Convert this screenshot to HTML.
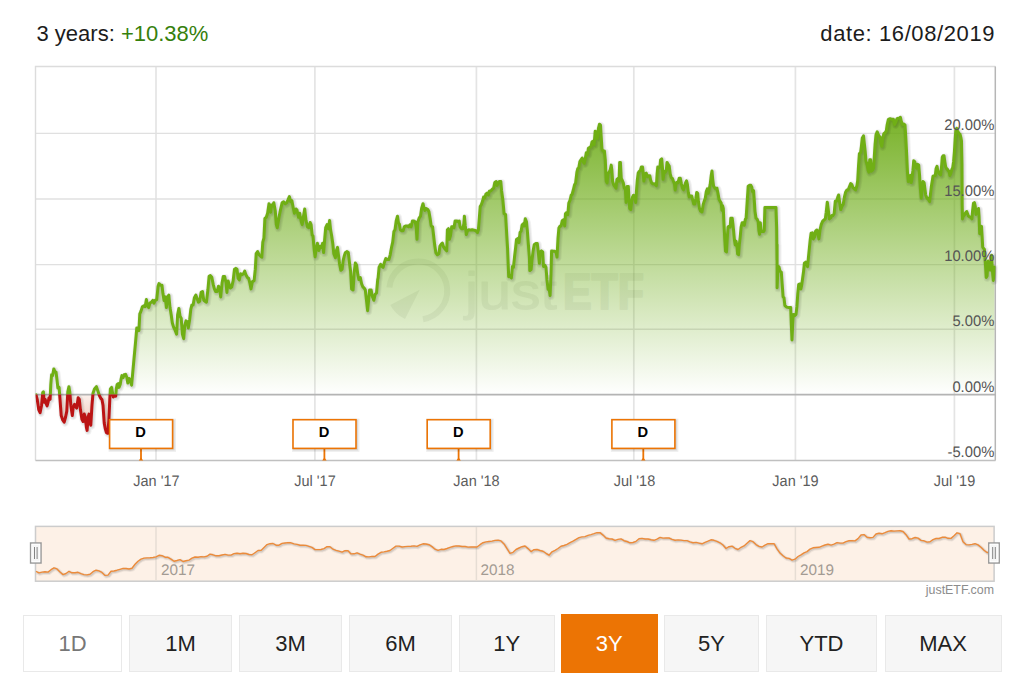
<!DOCTYPE html>
<html lang="en"><head><meta charset="utf-8"><title>justETF chart</title>
<style>
html,body{margin:0;padding:0;background:#fff}
body{width:1024px;height:675px;position:relative;overflow:hidden;font-family:"Liberation Sans",sans-serif;color:#222}
.chart{position:absolute;left:0;top:0}
.hd{position:absolute;top:21px;font-size:22px;line-height:26px;white-space:nowrap;color:#1c1c1c}
.hd.l{left:36.5px;letter-spacing:0} .hd.r{right:28.9px;letter-spacing:0.6px}
.hd .g{color:#36800c}
.btn{position:absolute;top:615px;height:56.5px;box-sizing:border-box;border:1.5px solid #e9e9e9;background:#f6f6f6;color:#222;font-size:22px;line-height:56px;text-align:center}
.btn.dis{background:#fff;color:#777}
.btn.act{background:#ec7404;border-color:#ec7404;color:#fff;top:614px;height:58.5px;line-height:58px}
</style></head><body>
<svg class="chart" width="1024" height="675" viewBox="0 0 1024 675">
<defs>
<linearGradient id="gG" gradientUnits="userSpaceOnUse" x1="0" y1="117" x2="0" y2="395">
<stop offset="0" stop-color="#6aaa12" stop-opacity="0.9"/><stop offset="1" stop-color="#6aaa12" stop-opacity="0"/></linearGradient>
<linearGradient id="gR" gradientUnits="userSpaceOnUse" x1="0" y1="395" x2="0" y2="440">
<stop offset="0" stop-color="#d8663a" stop-opacity="0.1"/><stop offset="1" stop-color="#d8663a" stop-opacity="0.45"/></linearGradient>
<clipPath id="cUp"><rect x="35.6" y="60" width="960" height="334.6"/></clipPath>
<clipPath id="cDn"><rect x="35.6" y="394.6" width="960" height="66"/></clipPath>
<clipPath id="cPlot"><rect x="35.6" y="60" width="961" height="402"/></clipPath>
</defs>
<g fill="none" stroke="#e4e4e4" stroke-width="1.7">
<path d="M156.0 66.5 V460.5"/>
<path d="M314.9 66.5 V460.5"/>
<path d="M476.4 66.5 V460.5"/>
<path d="M633.8 66.5 V460.5"/>
<path d="M795.4 66.5 V460.5"/>
<path d="M954.4 66.5 V460.5"/>
</g>
<g fill="none" stroke="#e0e0e0" stroke-width="1.4">
<path d="M35.5 133.4 H995.5"/>
<path d="M35.5 199.0 H995.5"/>
<path d="M35.5 264.6 H995.5"/>
<path d="M35.5 329.3 H995.5"/>
</g>
<path d="M35.5 460.5 V66.5 H995.5" fill="none" stroke="#dcdcdc" stroke-width="1.4"/>
<path d="M995.3 66.6 V460.5" fill="none" stroke="#b6b6b6" stroke-width="1.5"/>
<g class="wm" opacity="0.055" fill="#000" stroke="#000" stroke-linejoin="round">
<path d="M389.4 287.5 A29 29 0 1 1 423 319.2" fill="none" stroke-width="6" stroke-linecap="butt"/>
<path d="M419.7 289.7 L390.3 305 A31.5 31.5 0 0 0 405 319 Z" stroke="none"/>
<text x="465" y="309" font-size="52" stroke-width="1" font-family="'Liberation Sans',sans-serif" textLength="92" lengthAdjust="spacingAndGlyphs">just</text>
<text x="563" y="309" font-size="50" font-weight="bold" stroke-width="2.2" font-family="'Liberation Sans',sans-serif" textLength="81" lengthAdjust="spacingAndGlyphs">ETF</text>
</g>
<path d="M36.0 394.8 L37.2 399.3 L38.7 409.6 L40.1 412.6 L41.6 405.2 L42.7 392.6 L43.4 391.9 L44.1 402.2 L45.2 399.3 L46.1 403.7 L47.1 405.9 L48.1 402.2 L49.0 397.8 L50.1 399.3 L50.8 384.4 L51.6 374.8 L52.6 375.6 L53.8 368.9 L55.0 371.9 L56.0 371.9 L57.0 380.0 L57.9 388.1 L59.1 387.4 L60.0 399.3 L61.2 415.6 L62.7 420.0 L64.2 422.2 L65.6 417.0 L66.8 411.1 L67.8 391.9 L68.9 386.7 L69.8 391.9 L70.8 405.2 L72.3 415.6 L73.3 406.7 L74.5 404.4 L75.7 406.7 L76.7 408.1 L78.2 397.8 L79.3 399.3 L80.4 409.6 L81.9 419.3 L83.1 421.5 L84.2 414.1 L85.2 417.0 L86.4 427.4 L87.1 430.4 L88.2 417.0 L89.0 414.1 L90.1 423.0 L90.8 425.2 L92.0 405.2 L93.0 393.3 L94.5 388.9 L96.4 386.7 L97.9 391.1 L99.4 395.6 L100.9 398.5 L101.9 399.3 L103.0 405.2 L104.2 423.0 L105.3 428.9 L106.4 432.6 L107.8 433.3 L108.9 420.0 L109.8 399.3 L110.4 388.9 L111.6 387.4 L112.4 391.9 L113.3 397.0 L114.5 395.6 L115.7 396.3 L116.3 388.9 L117.2 384.4 L118.2 383.7 L119.0 387.4 L120.2 384.4 L121.2 378.5 L121.9 375.6 L123.1 377.8 L124.2 374.8 L125.6 374.4 L126.7 377.0 L127.8 383.0 L129.0 378.5 L130.2 380.0 L131.6 385.2 L133.9 360.0 L135.3 344.9 L136.8 328.0 L138.0 328.0 L138.9 330.7 L139.8 313.8 L141.0 311.1 L142.4 306.7 L143.9 305.8 L145.1 306.7 L146.4 299.6 L147.4 305.8 L148.7 307.6 L149.9 303.1 L151.3 302.2 L152.8 300.4 L154.0 303.1 L155.2 300.4 L156.7 299.6 L158.1 286.2 L159.0 283.6 L160.6 285.3 L162.0 285.3 L162.9 293.3 L164.1 300.4 L165.2 296.9 L166.4 307.6 L167.3 296.9 L168.8 295.1 L170.0 307.6 L171.2 314.7 L172.3 322.7 L173.6 327.1 L175.3 330.7 L176.6 334.2 L177.6 314.7 L178.9 308.4 L180.1 316.4 L181.2 318.2 L182.4 334.2 L183.7 338.7 L184.8 325.3 L186.0 320.9 L187.2 321.8 L188.3 328.0 L189.6 320.0 L190.8 309.3 L191.9 304.9 L193.1 304.9 L194.4 297.8 L195.8 295.1 L197.2 298.7 L198.4 302.2 L199.7 301.3 L201.1 292.4 L202.5 291.6 L203.8 300.4 L205.0 301.3 L206.4 302.2 L207.9 289.8 L209.1 276.4 L210.4 275.6 L211.8 277.3 L213.2 284.4 L214.4 288.9 L215.7 291.6 L217.1 291.6 L218.5 286.2 L219.8 289.8 L220.7 296.9 L222.1 282.7 L223.3 276.4 L224.6 276.4 L226.0 282.7 L226.9 292.4 L228.1 280.9 L229.2 284.4 L230.4 288.0 L231.7 287.1 L233.1 280.9 L234.5 269.3 L235.8 268.4 L237.0 269.3 L238.1 278.2 L239.3 280.0 L240.6 273.8 L242.0 274.7 L243.4 273.8 L244.7 271.1 L245.9 274.7 L247.3 277.3 L248.7 278.5 L250.0 283.7 L251.0 288.9 L252.4 281.6 L254.1 280.6 L255.3 269.2 L256.2 253.6 L257.6 251.6 L259.1 254.7 L260.7 256.3 L261.8 257.2 L262.8 242.2 L263.9 238.1 L264.9 218.4 L266.3 217.3 L267.6 213.2 L269.0 203.8 L270.7 212.2 L271.5 204.9 L272.8 205.9 L273.8 202.8 L275.3 211.1 L276.3 224.6 L277.3 227.7 L279.0 217.3 L280.4 210.1 L282.1 202.8 L283.6 201.8 L285.2 203.8 L286.7 202.8 L288.1 199.7 L289.4 196.6 L290.8 201.8 L291.9 200.7 L293.1 207.0 L294.4 213.2 L296.0 209.0 L297.0 210.1 L298.5 217.3 L299.7 213.2 L301.2 221.5 L302.2 224.6 L303.3 217.3 L304.7 209.0 L306.0 220.4 L307.4 226.7 L308.9 227.7 L310.1 222.5 L311.1 224.6 L312.2 235.0 L313.0 236.0 L314.3 250.5 L315.1 256.8 L316.3 248.4 L317.4 243.3 L318.8 250.5 L320.3 246.4 L321.5 247.4 L322.6 243.3 L323.6 252.6 L324.6 240.2 L325.7 227.7 L327.1 224.6 L328.4 228.8 L329.6 220.4 L330.6 229.8 L331.7 236.0 L332.9 244.3 L333.8 253.6 L335.4 257.8 L336.4 250.5 L337.5 247.4 L338.7 256.8 L339.6 264.0 L340.8 270.2 L342.1 269.2 L343.1 260.9 L344.3 255.7 L345.4 252.6 L346.8 251.6 L348.3 252.6 L349.5 263.0 L350.6 271.3 L351.6 288.9 L353.1 289.9 L354.1 273.3 L355.3 263.0 L356.6 265.0 L357.8 274.4 L358.9 279.6 L360.3 277.5 L361.6 283.7 L362.8 286.8 L364.0 287.9 L365.3 289.9 L366.5 300.3 L367.6 310.7 L368.6 300.3 L369.6 289.9 L371.1 289.9 L372.3 296.2 L373.8 300.3 L375.2 294.1 L376.5 293.1 L377.7 279.6 L378.1 277.9 L379.1 267.3 L380.6 264.4 L381.9 266.3 L383.1 267.3 L384.4 262.4 L385.8 258.6 L387.3 259.6 L388.9 259.6 L390.2 254.8 L391.6 247.0 L392.7 242.2 L393.9 231.6 L395.0 229.7 L396.2 221.0 L397.5 216.2 L398.5 223.0 L399.3 223.9 L400.4 229.7 L401.8 230.7 L403.1 230.7 L404.3 226.8 L405.6 225.9 L407.0 225.9 L408.5 226.8 L409.9 224.9 L411.2 226.8 L412.4 221.0 L413.9 221.0 L415.3 222.0 L416.2 227.8 L417.0 239.3 L417.8 222.0 L419.1 218.2 L420.5 216.2 L421.6 208.5 L423.0 203.7 L423.9 207.6 L424.9 210.4 L426.2 208.5 L427.8 209.5 L428.9 211.4 L430.1 218.2 L431.2 225.9 L432.6 226.8 L433.6 235.5 L434.7 245.1 L435.9 252.8 L437.4 254.8 L438.9 253.8 L439.9 246.1 L441.3 244.2 L442.4 243.2 L443.6 247.0 L445.1 249.0 L446.7 250.9 L447.4 229.7 L448.4 228.7 L449.4 239.3 L450.5 235.5 L451.7 226.8 L452.8 226.8 L454.0 227.8 L455.1 221.0 L456.7 221.0 L458.2 221.6 L459.2 221.0 L460.1 226.8 L461.5 228.7 L462.8 228.7 L463.8 223.9 L464.4 216.2 L465.3 225.9 L466.3 234.5 L467.5 230.7 L468.8 229.7 L470.1 230.1 L472.1 229.7 L474.0 230.1 L475.9 230.7 L477.5 232.6 L478.4 229.7 L479.4 217.2 L480.2 206.6 L481.3 204.7 L482.7 200.8 L483.6 197.0 L484.8 197.9 L485.9 194.1 L487.1 193.1 L488.3 195.0 L489.4 191.2 L491.0 190.8 L492.3 189.3 L493.6 188.3 L494.8 182.5 L496.2 181.6 L497.1 185.4 L499.3 181.4 L500.8 181.4 L501.6 190.7 L502.9 200.1 L504.1 213.6 L505.6 214.6 L506.6 232.2 L507.6 248.8 L508.7 276.8 L510.1 275.8 L511.4 277.9 L512.4 266.4 L513.4 267.5 L514.5 257.1 L515.5 248.8 L516.5 239.5 L518.0 238.4 L519.0 242.6 L520.1 232.2 L521.1 231.2 L522.1 225.0 L523.2 223.9 L524.2 226.0 L525.3 218.8 L526.5 221.9 L527.3 230.2 L528.4 244.7 L529.4 257.1 L529.8 270.6 L531.1 269.6 L532.1 259.2 L533.1 250.9 L534.2 244.7 L535.6 243.6 L537.3 243.6 L538.3 251.9 L539.4 263.3 L540.2 251.9 L541.4 250.9 L542.7 251.9 L543.5 266.4 L545.0 265.4 L546.0 267.5 L547.0 279.9 L548.1 289.3 L549.1 288.2 L550.1 295.5 L551.0 273.7 L551.6 250.9 L552.9 251.3 L554.7 251.3 L556.0 251.9 L557.0 257.1 L558.0 238.4 L558.9 228.1 L560.1 226.0 L561.1 226.0 L562.2 220.8 L563.6 219.8 L564.7 226.0 L565.5 213.6 L566.8 212.5 L567.8 214.6 L568.8 203.2 L570.1 200.1 L571.3 194.9 L572.1 194.4 L573.3 190.0 L574.6 184.7 L575.6 182.9 L576.9 172.2 L577.8 168.7 L578.8 167.8 L579.9 161.6 L581.0 159.8 L582.2 158.0 L583.1 161.6 L584.2 163.3 L585.2 158.9 L586.3 152.7 L587.6 154.4 L588.4 148.2 L589.9 147.3 L591.1 146.4 L592.0 142.0 L593.1 141.1 L594.1 144.7 L595.2 131.3 L596.4 132.2 L597.3 138.4 L598.4 128.7 L599.5 124.2 L600.5 125.1 L601.2 136.7 L602.0 149.1 L603.0 150.9 L604.4 150.9 L605.3 159.8 L606.2 181.1 L607.1 182.9 L608.0 173.1 L609.2 172.2 L610.3 169.6 L611.2 165.1 L611.9 170.4 L612.6 181.1 L613.7 184.7 L614.8 186.4 L616.0 188.2 L616.9 179.3 L618.0 178.4 L619.0 181.1 L619.7 162.4 L620.4 162.4 L621.3 178.4 L622.2 180.2 L623.3 182.9 L624.4 188.2 L625.4 189.1 L626.1 202.4 L627.2 186.4 L628.3 186.4 L629.0 198.9 L629.7 208.7 L630.8 209.6 L631.6 202.4 L632.5 197.1 L633.4 195.3 L634.7 196.2 L635.7 202.4 L636.4 191.8 L637.3 180.2 L638.2 173.1 L639.3 171.3 L640.4 170.4 L641.4 166.9 L642.5 166.9 L643.2 172.2 L643.9 181.1 L645.0 174.0 L646.2 173.1 L647.5 176.7 L648.5 175.8 L649.8 175.8 L650.7 180.2 L651.7 182.9 L652.8 183.8 L654.2 183.8 L655.5 184.7 L656.4 185.6 L657.1 174.0 L657.8 166.9 L658.8 167.8 L659.9 166.9 L660.6 159.8 L661.7 158.9 L662.4 166.9 L663.1 179.3 L664.2 171.3 L665.2 172.2 L666.3 170.4 L667.0 162.4 L668.1 164.2 L669.2 166.0 L670.2 174.0 L671.3 177.6 L672.4 178.4 L673.4 181.1 L674.5 183.8 L675.2 190.0 L676.3 182.9 L677.3 182.0 L678.0 182.7 L679.2 178.2 L680.3 178.2 L681.4 183.6 L682.4 188.0 L683.5 189.8 L684.6 186.2 L685.6 182.7 L686.5 180.9 L687.4 184.4 L688.3 192.4 L689.2 196.9 L690.4 196.0 L691.7 196.0 L692.8 200.4 L693.8 204.0 L694.9 204.0 L695.8 198.7 L696.7 192.4 L697.7 193.3 L698.4 201.3 L699.5 208.4 L700.6 211.1 L702.0 212.0 L703.1 204.9 L704.1 201.3 L705.2 198.7 L706.3 191.6 L707.3 188.9 L708.2 193.3 L709.1 189.8 L710.2 184.4 L711.2 175.6 L712.0 171.1 L712.7 179.1 L713.6 186.2 L714.8 188.0 L715.9 188.9 L716.9 188.0 L718.0 193.3 L719.1 199.6 L720.1 201.3 L721.2 203.1 L721.9 210.2 L722.6 205.8 L723.3 208.4 L724.0 223.6 L724.8 239.6 L725.5 251.1 L726.5 252.0 L727.2 239.6 L728.0 227.1 L729.0 226.2 L730.1 227.1 L730.8 218.2 L732.2 218.2 L732.9 223.6 L733.6 230.7 L734.4 239.6 L735.2 244.9 L736.1 241.3 L737.0 246.7 L737.6 253.8 L738.6 254.7 L739.3 244.9 L740.2 236.9 L741.1 227.1 L742.2 222.7 L743.2 222.7 L744.3 225.3 L745.4 219.1 L746.1 218.2 L746.8 207.6 L747.5 196.9 L748.2 186.2 L749.6 185.3 L750.9 185.3 L751.8 187.1 L752.5 191.6 L753.6 190.7 L754.3 200.4 L755.0 211.1 L756.0 218.2 L757.1 219.1 L758.2 221.8 L758.9 230.7 L759.6 234.2 L760.3 222.7 L761.0 229.8 L762.1 231.6 L763.5 231.6 L764.2 230.7 L764.9 207.6 L766.9 207.6 L769.6 207.6 L773.1 207.6 L776.0 207.6 L776.7 228.9 L777.0 260.0 L777.1 244.4 L777.1 287.8 L777.8 271.1 L778.9 266.7 L780.0 271.1 L781.3 272.2 L782.2 284.4 L783.1 296.7 L784.0 297.8 L784.9 305.6 L786.7 307.1 L788.9 307.6 L790.7 307.6 L791.3 324.4 L792.0 340.0 L792.7 324.4 L793.3 314.4 L794.7 315.6 L796.0 314.4 L796.9 306.7 L797.8 293.3 L798.7 284.4 L800.0 284.0 L800.9 288.9 L801.8 284.4 L802.7 277.8 L803.6 271.1 L804.4 263.3 L805.8 262.2 L806.7 264.4 L807.6 266.7 L808.4 257.8 L809.3 248.9 L810.2 240.0 L811.1 233.3 L812.4 232.9 L813.3 238.9 L814.7 236.7 L815.6 231.1 L816.9 230.0 L817.8 233.3 L818.9 238.9 L820.0 230.0 L821.3 224.4 L822.7 221.1 L824.0 220.0 L825.3 218.9 L826.2 212.2 L827.3 202.2 L828.2 208.9 L829.3 218.9 L830.7 217.8 L831.8 215.6 L832.8 215.8 L834.1 213.7 L835.3 201.3 L836.5 201.3 L837.8 197.1 L838.6 195.0 L839.5 201.3 L840.7 209.6 L841.9 206.4 L843.2 204.4 L844.4 197.1 L845.7 191.9 L846.9 189.9 L848.2 189.9 L849.4 186.8 L850.7 183.6 L851.9 184.7 L853.1 187.8 L854.4 188.8 L855.6 189.9 L856.9 185.7 L857.7 180.5 L858.5 166.0 L859.4 153.6 L860.6 152.5 L861.4 146.3 L862.3 138.0 L863.5 135.9 L864.4 144.2 L865.2 151.5 L866.0 160.8 L867.2 165.0 L868.1 170.2 L868.9 172.2 L869.7 159.8 L870.6 159.8 L871.4 171.2 L872.6 170.2 L873.5 168.1 L874.3 156.7 L875.1 144.2 L876.0 134.9 L877.2 131.8 L878.0 133.8 L878.9 135.9 L880.1 137.0 L880.9 143.2 L881.8 146.3 L882.6 139.0 L883.8 133.8 L885.1 132.8 L886.3 130.7 L887.2 124.5 L888.4 119.3 L890.1 118.7 L891.7 119.3 L893.4 119.3 L894.6 124.5 L895.9 121.4 L897.1 118.7 L898.4 118.3 L899.6 117.9 L900.4 117.3 L901.3 121.4 L902.5 124.5 L903.8 124.1 L905.0 124.9 L905.8 137.0 L906.7 154.6 L907.5 172.2 L908.3 181.6 L909.1 176.4 L910.4 175.3 L911.2 182.6 L912.0 178.4 L912.9 170.2 L913.7 160.8 L914.8 161.9 L915.8 166.0 L916.6 168.1 L917.5 164.3 L918.7 165.0 L919.5 174.3 L920.4 188.8 L921.2 198.2 L922.0 189.9 L923.0 181.6 L924.1 182.6 L924.9 188.8 L925.7 195.0 L927.0 198.2 L927.7 198.0 L928.8 200.2 L929.6 201.6 L930.5 193.8 L931.3 186.8 L932.2 181.2 L933.0 176.2 L934.1 175.8 L935.3 175.5 L936.1 168.5 L937.0 166.4 L937.8 170.6 L938.6 172.7 L939.6 174.1 L940.6 174.8 L941.5 167.1 L942.3 157.2 L943.1 155.8 L944.0 155.8 L944.8 161.4 L945.7 167.1 L946.5 168.5 L947.4 169.2 L948.2 170.6 L949.1 171.3 L949.9 175.5 L951.0 172.7 L951.9 169.2 L952.7 167.8 L953.6 161.4 L954.4 151.6 L955.2 138.9 L955.8 130.5 L956.7 128.4 L957.5 130.5 L958.4 132.6 L959.2 134.0 L960.0 134.0 L960.9 137.5 L961.5 141.0 L962.0 164.3 L962.2 204.8 L962.5 218.9 L963.4 215.9 L964.4 215.2 L965.5 213.0 L966.7 211.5 L967.6 213.7 L968.4 215.9 L969.6 216.7 L970.8 217.4 L971.9 218.9 L972.6 210.7 L973.5 203.3 L974.4 202.6 L975.3 206.3 L975.9 214.4 L976.7 211.5 L977.6 210.7 L978.5 208.5 L979.1 216.7 L979.7 233.7 L980.6 227.0 L981.5 226.3 L982.1 235.9 L982.7 247.0 L983.6 248.5 L984.4 249.3 L985.0 258.1 L985.6 267.0 L986.2 277.4 L987.1 275.9 L987.7 265.6 L988.3 261.1 L989.2 269.3 L990.1 270.0 L991.0 264.1 L991.6 255.2 L992.1 264.1 L992.7 274.4 L993.3 280.4 L993.9 275.9 L994.4 267.0 L994.4 395.0 L36.0 395.0 Z" fill="url(#gG)" clip-path="url(#cUp)"/>
<path d="M36.0 394.8 L37.2 399.3 L38.7 409.6 L40.1 412.6 L41.6 405.2 L42.7 392.6 L43.4 391.9 L44.1 402.2 L45.2 399.3 L46.1 403.7 L47.1 405.9 L48.1 402.2 L49.0 397.8 L50.1 399.3 L50.8 384.4 L51.6 374.8 L52.6 375.6 L53.8 368.9 L55.0 371.9 L56.0 371.9 L57.0 380.0 L57.9 388.1 L59.1 387.4 L60.0 399.3 L61.2 415.6 L62.7 420.0 L64.2 422.2 L65.6 417.0 L66.8 411.1 L67.8 391.9 L68.9 386.7 L69.8 391.9 L70.8 405.2 L72.3 415.6 L73.3 406.7 L74.5 404.4 L75.7 406.7 L76.7 408.1 L78.2 397.8 L79.3 399.3 L80.4 409.6 L81.9 419.3 L83.1 421.5 L84.2 414.1 L85.2 417.0 L86.4 427.4 L87.1 430.4 L88.2 417.0 L89.0 414.1 L90.1 423.0 L90.8 425.2 L92.0 405.2 L93.0 393.3 L94.5 388.9 L96.4 386.7 L97.9 391.1 L99.4 395.6 L100.9 398.5 L101.9 399.3 L103.0 405.2 L104.2 423.0 L105.3 428.9 L106.4 432.6 L107.8 433.3 L108.9 420.0 L109.8 399.3 L110.4 388.9 L111.6 387.4 L112.4 391.9 L113.3 397.0 L114.5 395.6 L115.7 396.3 L116.3 388.9 L117.2 384.4 L118.2 383.7 L119.0 387.4 L120.2 384.4 L121.2 378.5 L121.9 375.6 L123.1 377.8 L124.2 374.8 L125.6 374.4 L126.7 377.0 L127.8 383.0 L129.0 378.5 L130.2 380.0 L131.6 385.2 L133.9 360.0 L135.3 344.9 L136.8 328.0 L138.0 328.0 L138.9 330.7 L139.8 313.8 L141.0 311.1 L142.4 306.7 L143.9 305.8 L145.1 306.7 L146.4 299.6 L147.4 305.8 L148.7 307.6 L149.9 303.1 L151.3 302.2 L152.8 300.4 L154.0 303.1 L155.2 300.4 L156.7 299.6 L158.1 286.2 L159.0 283.6 L160.6 285.3 L162.0 285.3 L162.9 293.3 L164.1 300.4 L165.2 296.9 L166.4 307.6 L167.3 296.9 L168.8 295.1 L170.0 307.6 L171.2 314.7 L172.3 322.7 L173.6 327.1 L175.3 330.7 L176.6 334.2 L177.6 314.7 L178.9 308.4 L180.1 316.4 L181.2 318.2 L182.4 334.2 L183.7 338.7 L184.8 325.3 L186.0 320.9 L187.2 321.8 L188.3 328.0 L189.6 320.0 L190.8 309.3 L191.9 304.9 L193.1 304.9 L194.4 297.8 L195.8 295.1 L197.2 298.7 L198.4 302.2 L199.7 301.3 L201.1 292.4 L202.5 291.6 L203.8 300.4 L205.0 301.3 L206.4 302.2 L207.9 289.8 L209.1 276.4 L210.4 275.6 L211.8 277.3 L213.2 284.4 L214.4 288.9 L215.7 291.6 L217.1 291.6 L218.5 286.2 L219.8 289.8 L220.7 296.9 L222.1 282.7 L223.3 276.4 L224.6 276.4 L226.0 282.7 L226.9 292.4 L228.1 280.9 L229.2 284.4 L230.4 288.0 L231.7 287.1 L233.1 280.9 L234.5 269.3 L235.8 268.4 L237.0 269.3 L238.1 278.2 L239.3 280.0 L240.6 273.8 L242.0 274.7 L243.4 273.8 L244.7 271.1 L245.9 274.7 L247.3 277.3 L248.7 278.5 L250.0 283.7 L251.0 288.9 L252.4 281.6 L254.1 280.6 L255.3 269.2 L256.2 253.6 L257.6 251.6 L259.1 254.7 L260.7 256.3 L261.8 257.2 L262.8 242.2 L263.9 238.1 L264.9 218.4 L266.3 217.3 L267.6 213.2 L269.0 203.8 L270.7 212.2 L271.5 204.9 L272.8 205.9 L273.8 202.8 L275.3 211.1 L276.3 224.6 L277.3 227.7 L279.0 217.3 L280.4 210.1 L282.1 202.8 L283.6 201.8 L285.2 203.8 L286.7 202.8 L288.1 199.7 L289.4 196.6 L290.8 201.8 L291.9 200.7 L293.1 207.0 L294.4 213.2 L296.0 209.0 L297.0 210.1 L298.5 217.3 L299.7 213.2 L301.2 221.5 L302.2 224.6 L303.3 217.3 L304.7 209.0 L306.0 220.4 L307.4 226.7 L308.9 227.7 L310.1 222.5 L311.1 224.6 L312.2 235.0 L313.0 236.0 L314.3 250.5 L315.1 256.8 L316.3 248.4 L317.4 243.3 L318.8 250.5 L320.3 246.4 L321.5 247.4 L322.6 243.3 L323.6 252.6 L324.6 240.2 L325.7 227.7 L327.1 224.6 L328.4 228.8 L329.6 220.4 L330.6 229.8 L331.7 236.0 L332.9 244.3 L333.8 253.6 L335.4 257.8 L336.4 250.5 L337.5 247.4 L338.7 256.8 L339.6 264.0 L340.8 270.2 L342.1 269.2 L343.1 260.9 L344.3 255.7 L345.4 252.6 L346.8 251.6 L348.3 252.6 L349.5 263.0 L350.6 271.3 L351.6 288.9 L353.1 289.9 L354.1 273.3 L355.3 263.0 L356.6 265.0 L357.8 274.4 L358.9 279.6 L360.3 277.5 L361.6 283.7 L362.8 286.8 L364.0 287.9 L365.3 289.9 L366.5 300.3 L367.6 310.7 L368.6 300.3 L369.6 289.9 L371.1 289.9 L372.3 296.2 L373.8 300.3 L375.2 294.1 L376.5 293.1 L377.7 279.6 L378.1 277.9 L379.1 267.3 L380.6 264.4 L381.9 266.3 L383.1 267.3 L384.4 262.4 L385.8 258.6 L387.3 259.6 L388.9 259.6 L390.2 254.8 L391.6 247.0 L392.7 242.2 L393.9 231.6 L395.0 229.7 L396.2 221.0 L397.5 216.2 L398.5 223.0 L399.3 223.9 L400.4 229.7 L401.8 230.7 L403.1 230.7 L404.3 226.8 L405.6 225.9 L407.0 225.9 L408.5 226.8 L409.9 224.9 L411.2 226.8 L412.4 221.0 L413.9 221.0 L415.3 222.0 L416.2 227.8 L417.0 239.3 L417.8 222.0 L419.1 218.2 L420.5 216.2 L421.6 208.5 L423.0 203.7 L423.9 207.6 L424.9 210.4 L426.2 208.5 L427.8 209.5 L428.9 211.4 L430.1 218.2 L431.2 225.9 L432.6 226.8 L433.6 235.5 L434.7 245.1 L435.9 252.8 L437.4 254.8 L438.9 253.8 L439.9 246.1 L441.3 244.2 L442.4 243.2 L443.6 247.0 L445.1 249.0 L446.7 250.9 L447.4 229.7 L448.4 228.7 L449.4 239.3 L450.5 235.5 L451.7 226.8 L452.8 226.8 L454.0 227.8 L455.1 221.0 L456.7 221.0 L458.2 221.6 L459.2 221.0 L460.1 226.8 L461.5 228.7 L462.8 228.7 L463.8 223.9 L464.4 216.2 L465.3 225.9 L466.3 234.5 L467.5 230.7 L468.8 229.7 L470.1 230.1 L472.1 229.7 L474.0 230.1 L475.9 230.7 L477.5 232.6 L478.4 229.7 L479.4 217.2 L480.2 206.6 L481.3 204.7 L482.7 200.8 L483.6 197.0 L484.8 197.9 L485.9 194.1 L487.1 193.1 L488.3 195.0 L489.4 191.2 L491.0 190.8 L492.3 189.3 L493.6 188.3 L494.8 182.5 L496.2 181.6 L497.1 185.4 L499.3 181.4 L500.8 181.4 L501.6 190.7 L502.9 200.1 L504.1 213.6 L505.6 214.6 L506.6 232.2 L507.6 248.8 L508.7 276.8 L510.1 275.8 L511.4 277.9 L512.4 266.4 L513.4 267.5 L514.5 257.1 L515.5 248.8 L516.5 239.5 L518.0 238.4 L519.0 242.6 L520.1 232.2 L521.1 231.2 L522.1 225.0 L523.2 223.9 L524.2 226.0 L525.3 218.8 L526.5 221.9 L527.3 230.2 L528.4 244.7 L529.4 257.1 L529.8 270.6 L531.1 269.6 L532.1 259.2 L533.1 250.9 L534.2 244.7 L535.6 243.6 L537.3 243.6 L538.3 251.9 L539.4 263.3 L540.2 251.9 L541.4 250.9 L542.7 251.9 L543.5 266.4 L545.0 265.4 L546.0 267.5 L547.0 279.9 L548.1 289.3 L549.1 288.2 L550.1 295.5 L551.0 273.7 L551.6 250.9 L552.9 251.3 L554.7 251.3 L556.0 251.9 L557.0 257.1 L558.0 238.4 L558.9 228.1 L560.1 226.0 L561.1 226.0 L562.2 220.8 L563.6 219.8 L564.7 226.0 L565.5 213.6 L566.8 212.5 L567.8 214.6 L568.8 203.2 L570.1 200.1 L571.3 194.9 L572.1 194.4 L573.3 190.0 L574.6 184.7 L575.6 182.9 L576.9 172.2 L577.8 168.7 L578.8 167.8 L579.9 161.6 L581.0 159.8 L582.2 158.0 L583.1 161.6 L584.2 163.3 L585.2 158.9 L586.3 152.7 L587.6 154.4 L588.4 148.2 L589.9 147.3 L591.1 146.4 L592.0 142.0 L593.1 141.1 L594.1 144.7 L595.2 131.3 L596.4 132.2 L597.3 138.4 L598.4 128.7 L599.5 124.2 L600.5 125.1 L601.2 136.7 L602.0 149.1 L603.0 150.9 L604.4 150.9 L605.3 159.8 L606.2 181.1 L607.1 182.9 L608.0 173.1 L609.2 172.2 L610.3 169.6 L611.2 165.1 L611.9 170.4 L612.6 181.1 L613.7 184.7 L614.8 186.4 L616.0 188.2 L616.9 179.3 L618.0 178.4 L619.0 181.1 L619.7 162.4 L620.4 162.4 L621.3 178.4 L622.2 180.2 L623.3 182.9 L624.4 188.2 L625.4 189.1 L626.1 202.4 L627.2 186.4 L628.3 186.4 L629.0 198.9 L629.7 208.7 L630.8 209.6 L631.6 202.4 L632.5 197.1 L633.4 195.3 L634.7 196.2 L635.7 202.4 L636.4 191.8 L637.3 180.2 L638.2 173.1 L639.3 171.3 L640.4 170.4 L641.4 166.9 L642.5 166.9 L643.2 172.2 L643.9 181.1 L645.0 174.0 L646.2 173.1 L647.5 176.7 L648.5 175.8 L649.8 175.8 L650.7 180.2 L651.7 182.9 L652.8 183.8 L654.2 183.8 L655.5 184.7 L656.4 185.6 L657.1 174.0 L657.8 166.9 L658.8 167.8 L659.9 166.9 L660.6 159.8 L661.7 158.9 L662.4 166.9 L663.1 179.3 L664.2 171.3 L665.2 172.2 L666.3 170.4 L667.0 162.4 L668.1 164.2 L669.2 166.0 L670.2 174.0 L671.3 177.6 L672.4 178.4 L673.4 181.1 L674.5 183.8 L675.2 190.0 L676.3 182.9 L677.3 182.0 L678.0 182.7 L679.2 178.2 L680.3 178.2 L681.4 183.6 L682.4 188.0 L683.5 189.8 L684.6 186.2 L685.6 182.7 L686.5 180.9 L687.4 184.4 L688.3 192.4 L689.2 196.9 L690.4 196.0 L691.7 196.0 L692.8 200.4 L693.8 204.0 L694.9 204.0 L695.8 198.7 L696.7 192.4 L697.7 193.3 L698.4 201.3 L699.5 208.4 L700.6 211.1 L702.0 212.0 L703.1 204.9 L704.1 201.3 L705.2 198.7 L706.3 191.6 L707.3 188.9 L708.2 193.3 L709.1 189.8 L710.2 184.4 L711.2 175.6 L712.0 171.1 L712.7 179.1 L713.6 186.2 L714.8 188.0 L715.9 188.9 L716.9 188.0 L718.0 193.3 L719.1 199.6 L720.1 201.3 L721.2 203.1 L721.9 210.2 L722.6 205.8 L723.3 208.4 L724.0 223.6 L724.8 239.6 L725.5 251.1 L726.5 252.0 L727.2 239.6 L728.0 227.1 L729.0 226.2 L730.1 227.1 L730.8 218.2 L732.2 218.2 L732.9 223.6 L733.6 230.7 L734.4 239.6 L735.2 244.9 L736.1 241.3 L737.0 246.7 L737.6 253.8 L738.6 254.7 L739.3 244.9 L740.2 236.9 L741.1 227.1 L742.2 222.7 L743.2 222.7 L744.3 225.3 L745.4 219.1 L746.1 218.2 L746.8 207.6 L747.5 196.9 L748.2 186.2 L749.6 185.3 L750.9 185.3 L751.8 187.1 L752.5 191.6 L753.6 190.7 L754.3 200.4 L755.0 211.1 L756.0 218.2 L757.1 219.1 L758.2 221.8 L758.9 230.7 L759.6 234.2 L760.3 222.7 L761.0 229.8 L762.1 231.6 L763.5 231.6 L764.2 230.7 L764.9 207.6 L766.9 207.6 L769.6 207.6 L773.1 207.6 L776.0 207.6 L776.7 228.9 L777.0 260.0 L777.1 244.4 L777.1 287.8 L777.8 271.1 L778.9 266.7 L780.0 271.1 L781.3 272.2 L782.2 284.4 L783.1 296.7 L784.0 297.8 L784.9 305.6 L786.7 307.1 L788.9 307.6 L790.7 307.6 L791.3 324.4 L792.0 340.0 L792.7 324.4 L793.3 314.4 L794.7 315.6 L796.0 314.4 L796.9 306.7 L797.8 293.3 L798.7 284.4 L800.0 284.0 L800.9 288.9 L801.8 284.4 L802.7 277.8 L803.6 271.1 L804.4 263.3 L805.8 262.2 L806.7 264.4 L807.6 266.7 L808.4 257.8 L809.3 248.9 L810.2 240.0 L811.1 233.3 L812.4 232.9 L813.3 238.9 L814.7 236.7 L815.6 231.1 L816.9 230.0 L817.8 233.3 L818.9 238.9 L820.0 230.0 L821.3 224.4 L822.7 221.1 L824.0 220.0 L825.3 218.9 L826.2 212.2 L827.3 202.2 L828.2 208.9 L829.3 218.9 L830.7 217.8 L831.8 215.6 L832.8 215.8 L834.1 213.7 L835.3 201.3 L836.5 201.3 L837.8 197.1 L838.6 195.0 L839.5 201.3 L840.7 209.6 L841.9 206.4 L843.2 204.4 L844.4 197.1 L845.7 191.9 L846.9 189.9 L848.2 189.9 L849.4 186.8 L850.7 183.6 L851.9 184.7 L853.1 187.8 L854.4 188.8 L855.6 189.9 L856.9 185.7 L857.7 180.5 L858.5 166.0 L859.4 153.6 L860.6 152.5 L861.4 146.3 L862.3 138.0 L863.5 135.9 L864.4 144.2 L865.2 151.5 L866.0 160.8 L867.2 165.0 L868.1 170.2 L868.9 172.2 L869.7 159.8 L870.6 159.8 L871.4 171.2 L872.6 170.2 L873.5 168.1 L874.3 156.7 L875.1 144.2 L876.0 134.9 L877.2 131.8 L878.0 133.8 L878.9 135.9 L880.1 137.0 L880.9 143.2 L881.8 146.3 L882.6 139.0 L883.8 133.8 L885.1 132.8 L886.3 130.7 L887.2 124.5 L888.4 119.3 L890.1 118.7 L891.7 119.3 L893.4 119.3 L894.6 124.5 L895.9 121.4 L897.1 118.7 L898.4 118.3 L899.6 117.9 L900.4 117.3 L901.3 121.4 L902.5 124.5 L903.8 124.1 L905.0 124.9 L905.8 137.0 L906.7 154.6 L907.5 172.2 L908.3 181.6 L909.1 176.4 L910.4 175.3 L911.2 182.6 L912.0 178.4 L912.9 170.2 L913.7 160.8 L914.8 161.9 L915.8 166.0 L916.6 168.1 L917.5 164.3 L918.7 165.0 L919.5 174.3 L920.4 188.8 L921.2 198.2 L922.0 189.9 L923.0 181.6 L924.1 182.6 L924.9 188.8 L925.7 195.0 L927.0 198.2 L927.7 198.0 L928.8 200.2 L929.6 201.6 L930.5 193.8 L931.3 186.8 L932.2 181.2 L933.0 176.2 L934.1 175.8 L935.3 175.5 L936.1 168.5 L937.0 166.4 L937.8 170.6 L938.6 172.7 L939.6 174.1 L940.6 174.8 L941.5 167.1 L942.3 157.2 L943.1 155.8 L944.0 155.8 L944.8 161.4 L945.7 167.1 L946.5 168.5 L947.4 169.2 L948.2 170.6 L949.1 171.3 L949.9 175.5 L951.0 172.7 L951.9 169.2 L952.7 167.8 L953.6 161.4 L954.4 151.6 L955.2 138.9 L955.8 130.5 L956.7 128.4 L957.5 130.5 L958.4 132.6 L959.2 134.0 L960.0 134.0 L960.9 137.5 L961.5 141.0 L962.0 164.3 L962.2 204.8 L962.5 218.9 L963.4 215.9 L964.4 215.2 L965.5 213.0 L966.7 211.5 L967.6 213.7 L968.4 215.9 L969.6 216.7 L970.8 217.4 L971.9 218.9 L972.6 210.7 L973.5 203.3 L974.4 202.6 L975.3 206.3 L975.9 214.4 L976.7 211.5 L977.6 210.7 L978.5 208.5 L979.1 216.7 L979.7 233.7 L980.6 227.0 L981.5 226.3 L982.1 235.9 L982.7 247.0 L983.6 248.5 L984.4 249.3 L985.0 258.1 L985.6 267.0 L986.2 277.4 L987.1 275.9 L987.7 265.6 L988.3 261.1 L989.2 269.3 L990.1 270.0 L991.0 264.1 L991.6 255.2 L992.1 264.1 L992.7 274.4 L993.3 280.4 L993.9 275.9 L994.4 267.0 L994.4 395.0 L36.0 395.0 Z" fill="url(#gR)" clip-path="url(#cDn)"/>
<path d="M35.5 394.7 H995.5" stroke="#b4b4b4" stroke-width="1.8" fill="none"/>
<path d="M35.5 460.5 H995.5" stroke="#c0c0c0" stroke-width="1.4" fill="none"/>
<g fill="none" stroke="#000" stroke-linejoin="round" stroke-linecap="round" transform="translate(1,1)" clip-path="url(#cPlot)">
<path d="M36.0 394.8 L37.2 399.3 L38.7 409.6 L40.1 412.6 L41.6 405.2 L42.7 392.6 L43.4 391.9 L44.1 402.2 L45.2 399.3 L46.1 403.7 L47.1 405.9 L48.1 402.2 L49.0 397.8 L50.1 399.3 L50.8 384.4 L51.6 374.8 L52.6 375.6 L53.8 368.9 L55.0 371.9 L56.0 371.9 L57.0 380.0 L57.9 388.1 L59.1 387.4 L60.0 399.3 L61.2 415.6 L62.7 420.0 L64.2 422.2 L65.6 417.0 L66.8 411.1 L67.8 391.9 L68.9 386.7 L69.8 391.9 L70.8 405.2 L72.3 415.6 L73.3 406.7 L74.5 404.4 L75.7 406.7 L76.7 408.1 L78.2 397.8 L79.3 399.3 L80.4 409.6 L81.9 419.3 L83.1 421.5 L84.2 414.1 L85.2 417.0 L86.4 427.4 L87.1 430.4 L88.2 417.0 L89.0 414.1 L90.1 423.0 L90.8 425.2 L92.0 405.2 L93.0 393.3 L94.5 388.9 L96.4 386.7 L97.9 391.1 L99.4 395.6 L100.9 398.5 L101.9 399.3 L103.0 405.2 L104.2 423.0 L105.3 428.9 L106.4 432.6 L107.8 433.3 L108.9 420.0 L109.8 399.3 L110.4 388.9 L111.6 387.4 L112.4 391.9 L113.3 397.0 L114.5 395.6 L115.7 396.3 L116.3 388.9 L117.2 384.4 L118.2 383.7 L119.0 387.4 L120.2 384.4 L121.2 378.5 L121.9 375.6 L123.1 377.8 L124.2 374.8 L125.6 374.4 L126.7 377.0 L127.8 383.0 L129.0 378.5 L130.2 380.0 L131.6 385.2 L133.9 360.0 L135.3 344.9 L136.8 328.0 L138.0 328.0 L138.9 330.7 L139.8 313.8 L141.0 311.1 L142.4 306.7 L143.9 305.8 L145.1 306.7 L146.4 299.6 L147.4 305.8 L148.7 307.6 L149.9 303.1 L151.3 302.2 L152.8 300.4 L154.0 303.1 L155.2 300.4 L156.7 299.6 L158.1 286.2 L159.0 283.6 L160.6 285.3 L162.0 285.3 L162.9 293.3 L164.1 300.4 L165.2 296.9 L166.4 307.6 L167.3 296.9 L168.8 295.1 L170.0 307.6 L171.2 314.7 L172.3 322.7 L173.6 327.1 L175.3 330.7 L176.6 334.2 L177.6 314.7 L178.9 308.4 L180.1 316.4 L181.2 318.2 L182.4 334.2 L183.7 338.7 L184.8 325.3 L186.0 320.9 L187.2 321.8 L188.3 328.0 L189.6 320.0 L190.8 309.3 L191.9 304.9 L193.1 304.9 L194.4 297.8 L195.8 295.1 L197.2 298.7 L198.4 302.2 L199.7 301.3 L201.1 292.4 L202.5 291.6 L203.8 300.4 L205.0 301.3 L206.4 302.2 L207.9 289.8 L209.1 276.4 L210.4 275.6 L211.8 277.3 L213.2 284.4 L214.4 288.9 L215.7 291.6 L217.1 291.6 L218.5 286.2 L219.8 289.8 L220.7 296.9 L222.1 282.7 L223.3 276.4 L224.6 276.4 L226.0 282.7 L226.9 292.4 L228.1 280.9 L229.2 284.4 L230.4 288.0 L231.7 287.1 L233.1 280.9 L234.5 269.3 L235.8 268.4 L237.0 269.3 L238.1 278.2 L239.3 280.0 L240.6 273.8 L242.0 274.7 L243.4 273.8 L244.7 271.1 L245.9 274.7 L247.3 277.3 L248.7 278.5 L250.0 283.7 L251.0 288.9 L252.4 281.6 L254.1 280.6 L255.3 269.2 L256.2 253.6 L257.6 251.6 L259.1 254.7 L260.7 256.3 L261.8 257.2 L262.8 242.2 L263.9 238.1 L264.9 218.4 L266.3 217.3 L267.6 213.2 L269.0 203.8 L270.7 212.2 L271.5 204.9 L272.8 205.9 L273.8 202.8 L275.3 211.1 L276.3 224.6 L277.3 227.7 L279.0 217.3 L280.4 210.1 L282.1 202.8 L283.6 201.8 L285.2 203.8 L286.7 202.8 L288.1 199.7 L289.4 196.6 L290.8 201.8 L291.9 200.7 L293.1 207.0 L294.4 213.2 L296.0 209.0 L297.0 210.1 L298.5 217.3 L299.7 213.2 L301.2 221.5 L302.2 224.6 L303.3 217.3 L304.7 209.0 L306.0 220.4 L307.4 226.7 L308.9 227.7 L310.1 222.5 L311.1 224.6 L312.2 235.0 L313.0 236.0 L314.3 250.5 L315.1 256.8 L316.3 248.4 L317.4 243.3 L318.8 250.5 L320.3 246.4 L321.5 247.4 L322.6 243.3 L323.6 252.6 L324.6 240.2 L325.7 227.7 L327.1 224.6 L328.4 228.8 L329.6 220.4 L330.6 229.8 L331.7 236.0 L332.9 244.3 L333.8 253.6 L335.4 257.8 L336.4 250.5 L337.5 247.4 L338.7 256.8 L339.6 264.0 L340.8 270.2 L342.1 269.2 L343.1 260.9 L344.3 255.7 L345.4 252.6 L346.8 251.6 L348.3 252.6 L349.5 263.0 L350.6 271.3 L351.6 288.9 L353.1 289.9 L354.1 273.3 L355.3 263.0 L356.6 265.0 L357.8 274.4 L358.9 279.6 L360.3 277.5 L361.6 283.7 L362.8 286.8 L364.0 287.9 L365.3 289.9 L366.5 300.3 L367.6 310.7 L368.6 300.3 L369.6 289.9 L371.1 289.9 L372.3 296.2 L373.8 300.3 L375.2 294.1 L376.5 293.1 L377.7 279.6 L378.1 277.9 L379.1 267.3 L380.6 264.4 L381.9 266.3 L383.1 267.3 L384.4 262.4 L385.8 258.6 L387.3 259.6 L388.9 259.6 L390.2 254.8 L391.6 247.0 L392.7 242.2 L393.9 231.6 L395.0 229.7 L396.2 221.0 L397.5 216.2 L398.5 223.0 L399.3 223.9 L400.4 229.7 L401.8 230.7 L403.1 230.7 L404.3 226.8 L405.6 225.9 L407.0 225.9 L408.5 226.8 L409.9 224.9 L411.2 226.8 L412.4 221.0 L413.9 221.0 L415.3 222.0 L416.2 227.8 L417.0 239.3 L417.8 222.0 L419.1 218.2 L420.5 216.2 L421.6 208.5 L423.0 203.7 L423.9 207.6 L424.9 210.4 L426.2 208.5 L427.8 209.5 L428.9 211.4 L430.1 218.2 L431.2 225.9 L432.6 226.8 L433.6 235.5 L434.7 245.1 L435.9 252.8 L437.4 254.8 L438.9 253.8 L439.9 246.1 L441.3 244.2 L442.4 243.2 L443.6 247.0 L445.1 249.0 L446.7 250.9 L447.4 229.7 L448.4 228.7 L449.4 239.3 L450.5 235.5 L451.7 226.8 L452.8 226.8 L454.0 227.8 L455.1 221.0 L456.7 221.0 L458.2 221.6 L459.2 221.0 L460.1 226.8 L461.5 228.7 L462.8 228.7 L463.8 223.9 L464.4 216.2 L465.3 225.9 L466.3 234.5 L467.5 230.7 L468.8 229.7 L470.1 230.1 L472.1 229.7 L474.0 230.1 L475.9 230.7 L477.5 232.6 L478.4 229.7 L479.4 217.2 L480.2 206.6 L481.3 204.7 L482.7 200.8 L483.6 197.0 L484.8 197.9 L485.9 194.1 L487.1 193.1 L488.3 195.0 L489.4 191.2 L491.0 190.8 L492.3 189.3 L493.6 188.3 L494.8 182.5 L496.2 181.6 L497.1 185.4 L499.3 181.4 L500.8 181.4 L501.6 190.7 L502.9 200.1 L504.1 213.6 L505.6 214.6 L506.6 232.2 L507.6 248.8 L508.7 276.8 L510.1 275.8 L511.4 277.9 L512.4 266.4 L513.4 267.5 L514.5 257.1 L515.5 248.8 L516.5 239.5 L518.0 238.4 L519.0 242.6 L520.1 232.2 L521.1 231.2 L522.1 225.0 L523.2 223.9 L524.2 226.0 L525.3 218.8 L526.5 221.9 L527.3 230.2 L528.4 244.7 L529.4 257.1 L529.8 270.6 L531.1 269.6 L532.1 259.2 L533.1 250.9 L534.2 244.7 L535.6 243.6 L537.3 243.6 L538.3 251.9 L539.4 263.3 L540.2 251.9 L541.4 250.9 L542.7 251.9 L543.5 266.4 L545.0 265.4 L546.0 267.5 L547.0 279.9 L548.1 289.3 L549.1 288.2 L550.1 295.5 L551.0 273.7 L551.6 250.9 L552.9 251.3 L554.7 251.3 L556.0 251.9 L557.0 257.1 L558.0 238.4 L558.9 228.1 L560.1 226.0 L561.1 226.0 L562.2 220.8 L563.6 219.8 L564.7 226.0 L565.5 213.6 L566.8 212.5 L567.8 214.6 L568.8 203.2 L570.1 200.1 L571.3 194.9 L572.1 194.4 L573.3 190.0 L574.6 184.7 L575.6 182.9 L576.9 172.2 L577.8 168.7 L578.8 167.8 L579.9 161.6 L581.0 159.8 L582.2 158.0 L583.1 161.6 L584.2 163.3 L585.2 158.9 L586.3 152.7 L587.6 154.4 L588.4 148.2 L589.9 147.3 L591.1 146.4 L592.0 142.0 L593.1 141.1 L594.1 144.7 L595.2 131.3 L596.4 132.2 L597.3 138.4 L598.4 128.7 L599.5 124.2 L600.5 125.1 L601.2 136.7 L602.0 149.1 L603.0 150.9 L604.4 150.9 L605.3 159.8 L606.2 181.1 L607.1 182.9 L608.0 173.1 L609.2 172.2 L610.3 169.6 L611.2 165.1 L611.9 170.4 L612.6 181.1 L613.7 184.7 L614.8 186.4 L616.0 188.2 L616.9 179.3 L618.0 178.4 L619.0 181.1 L619.7 162.4 L620.4 162.4 L621.3 178.4 L622.2 180.2 L623.3 182.9 L624.4 188.2 L625.4 189.1 L626.1 202.4 L627.2 186.4 L628.3 186.4 L629.0 198.9 L629.7 208.7 L630.8 209.6 L631.6 202.4 L632.5 197.1 L633.4 195.3 L634.7 196.2 L635.7 202.4 L636.4 191.8 L637.3 180.2 L638.2 173.1 L639.3 171.3 L640.4 170.4 L641.4 166.9 L642.5 166.9 L643.2 172.2 L643.9 181.1 L645.0 174.0 L646.2 173.1 L647.5 176.7 L648.5 175.8 L649.8 175.8 L650.7 180.2 L651.7 182.9 L652.8 183.8 L654.2 183.8 L655.5 184.7 L656.4 185.6 L657.1 174.0 L657.8 166.9 L658.8 167.8 L659.9 166.9 L660.6 159.8 L661.7 158.9 L662.4 166.9 L663.1 179.3 L664.2 171.3 L665.2 172.2 L666.3 170.4 L667.0 162.4 L668.1 164.2 L669.2 166.0 L670.2 174.0 L671.3 177.6 L672.4 178.4 L673.4 181.1 L674.5 183.8 L675.2 190.0 L676.3 182.9 L677.3 182.0 L678.0 182.7 L679.2 178.2 L680.3 178.2 L681.4 183.6 L682.4 188.0 L683.5 189.8 L684.6 186.2 L685.6 182.7 L686.5 180.9 L687.4 184.4 L688.3 192.4 L689.2 196.9 L690.4 196.0 L691.7 196.0 L692.8 200.4 L693.8 204.0 L694.9 204.0 L695.8 198.7 L696.7 192.4 L697.7 193.3 L698.4 201.3 L699.5 208.4 L700.6 211.1 L702.0 212.0 L703.1 204.9 L704.1 201.3 L705.2 198.7 L706.3 191.6 L707.3 188.9 L708.2 193.3 L709.1 189.8 L710.2 184.4 L711.2 175.6 L712.0 171.1 L712.7 179.1 L713.6 186.2 L714.8 188.0 L715.9 188.9 L716.9 188.0 L718.0 193.3 L719.1 199.6 L720.1 201.3 L721.2 203.1 L721.9 210.2 L722.6 205.8 L723.3 208.4 L724.0 223.6 L724.8 239.6 L725.5 251.1 L726.5 252.0 L727.2 239.6 L728.0 227.1 L729.0 226.2 L730.1 227.1 L730.8 218.2 L732.2 218.2 L732.9 223.6 L733.6 230.7 L734.4 239.6 L735.2 244.9 L736.1 241.3 L737.0 246.7 L737.6 253.8 L738.6 254.7 L739.3 244.9 L740.2 236.9 L741.1 227.1 L742.2 222.7 L743.2 222.7 L744.3 225.3 L745.4 219.1 L746.1 218.2 L746.8 207.6 L747.5 196.9 L748.2 186.2 L749.6 185.3 L750.9 185.3 L751.8 187.1 L752.5 191.6 L753.6 190.7 L754.3 200.4 L755.0 211.1 L756.0 218.2 L757.1 219.1 L758.2 221.8 L758.9 230.7 L759.6 234.2 L760.3 222.7 L761.0 229.8 L762.1 231.6 L763.5 231.6 L764.2 230.7 L764.9 207.6 L766.9 207.6 L769.6 207.6 L773.1 207.6 L776.0 207.6 L776.7 228.9 L777.0 260.0 L777.1 244.4 L777.1 287.8 L777.8 271.1 L778.9 266.7 L780.0 271.1 L781.3 272.2 L782.2 284.4 L783.1 296.7 L784.0 297.8 L784.9 305.6 L786.7 307.1 L788.9 307.6 L790.7 307.6 L791.3 324.4 L792.0 340.0 L792.7 324.4 L793.3 314.4 L794.7 315.6 L796.0 314.4 L796.9 306.7 L797.8 293.3 L798.7 284.4 L800.0 284.0 L800.9 288.9 L801.8 284.4 L802.7 277.8 L803.6 271.1 L804.4 263.3 L805.8 262.2 L806.7 264.4 L807.6 266.7 L808.4 257.8 L809.3 248.9 L810.2 240.0 L811.1 233.3 L812.4 232.9 L813.3 238.9 L814.7 236.7 L815.6 231.1 L816.9 230.0 L817.8 233.3 L818.9 238.9 L820.0 230.0 L821.3 224.4 L822.7 221.1 L824.0 220.0 L825.3 218.9 L826.2 212.2 L827.3 202.2 L828.2 208.9 L829.3 218.9 L830.7 217.8 L831.8 215.6 L832.8 215.8 L834.1 213.7 L835.3 201.3 L836.5 201.3 L837.8 197.1 L838.6 195.0 L839.5 201.3 L840.7 209.6 L841.9 206.4 L843.2 204.4 L844.4 197.1 L845.7 191.9 L846.9 189.9 L848.2 189.9 L849.4 186.8 L850.7 183.6 L851.9 184.7 L853.1 187.8 L854.4 188.8 L855.6 189.9 L856.9 185.7 L857.7 180.5 L858.5 166.0 L859.4 153.6 L860.6 152.5 L861.4 146.3 L862.3 138.0 L863.5 135.9 L864.4 144.2 L865.2 151.5 L866.0 160.8 L867.2 165.0 L868.1 170.2 L868.9 172.2 L869.7 159.8 L870.6 159.8 L871.4 171.2 L872.6 170.2 L873.5 168.1 L874.3 156.7 L875.1 144.2 L876.0 134.9 L877.2 131.8 L878.0 133.8 L878.9 135.9 L880.1 137.0 L880.9 143.2 L881.8 146.3 L882.6 139.0 L883.8 133.8 L885.1 132.8 L886.3 130.7 L887.2 124.5 L888.4 119.3 L890.1 118.7 L891.7 119.3 L893.4 119.3 L894.6 124.5 L895.9 121.4 L897.1 118.7 L898.4 118.3 L899.6 117.9 L900.4 117.3 L901.3 121.4 L902.5 124.5 L903.8 124.1 L905.0 124.9 L905.8 137.0 L906.7 154.6 L907.5 172.2 L908.3 181.6 L909.1 176.4 L910.4 175.3 L911.2 182.6 L912.0 178.4 L912.9 170.2 L913.7 160.8 L914.8 161.9 L915.8 166.0 L916.6 168.1 L917.5 164.3 L918.7 165.0 L919.5 174.3 L920.4 188.8 L921.2 198.2 L922.0 189.9 L923.0 181.6 L924.1 182.6 L924.9 188.8 L925.7 195.0 L927.0 198.2 L927.7 198.0 L928.8 200.2 L929.6 201.6 L930.5 193.8 L931.3 186.8 L932.2 181.2 L933.0 176.2 L934.1 175.8 L935.3 175.5 L936.1 168.5 L937.0 166.4 L937.8 170.6 L938.6 172.7 L939.6 174.1 L940.6 174.8 L941.5 167.1 L942.3 157.2 L943.1 155.8 L944.0 155.8 L944.8 161.4 L945.7 167.1 L946.5 168.5 L947.4 169.2 L948.2 170.6 L949.1 171.3 L949.9 175.5 L951.0 172.7 L951.9 169.2 L952.7 167.8 L953.6 161.4 L954.4 151.6 L955.2 138.9 L955.8 130.5 L956.7 128.4 L957.5 130.5 L958.4 132.6 L959.2 134.0 L960.0 134.0 L960.9 137.5 L961.5 141.0 L962.0 164.3 L962.2 204.8 L962.5 218.9 L963.4 215.9 L964.4 215.2 L965.5 213.0 L966.7 211.5 L967.6 213.7 L968.4 215.9 L969.6 216.7 L970.8 217.4 L971.9 218.9 L972.6 210.7 L973.5 203.3 L974.4 202.6 L975.3 206.3 L975.9 214.4 L976.7 211.5 L977.6 210.7 L978.5 208.5 L979.1 216.7 L979.7 233.7 L980.6 227.0 L981.5 226.3 L982.1 235.9 L982.7 247.0 L983.6 248.5 L984.4 249.3 L985.0 258.1 L985.6 267.0 L986.2 277.4 L987.1 275.9 L987.7 265.6 L988.3 261.1 L989.2 269.3 L990.1 270.0 L991.0 264.1 L991.6 255.2 L992.1 264.1 L992.7 274.4 L993.3 280.4 L993.9 275.9 L994.4 267.0" stroke-width="7" stroke-opacity="0.05"/>
<path d="M36.0 394.8 L37.2 399.3 L38.7 409.6 L40.1 412.6 L41.6 405.2 L42.7 392.6 L43.4 391.9 L44.1 402.2 L45.2 399.3 L46.1 403.7 L47.1 405.9 L48.1 402.2 L49.0 397.8 L50.1 399.3 L50.8 384.4 L51.6 374.8 L52.6 375.6 L53.8 368.9 L55.0 371.9 L56.0 371.9 L57.0 380.0 L57.9 388.1 L59.1 387.4 L60.0 399.3 L61.2 415.6 L62.7 420.0 L64.2 422.2 L65.6 417.0 L66.8 411.1 L67.8 391.9 L68.9 386.7 L69.8 391.9 L70.8 405.2 L72.3 415.6 L73.3 406.7 L74.5 404.4 L75.7 406.7 L76.7 408.1 L78.2 397.8 L79.3 399.3 L80.4 409.6 L81.9 419.3 L83.1 421.5 L84.2 414.1 L85.2 417.0 L86.4 427.4 L87.1 430.4 L88.2 417.0 L89.0 414.1 L90.1 423.0 L90.8 425.2 L92.0 405.2 L93.0 393.3 L94.5 388.9 L96.4 386.7 L97.9 391.1 L99.4 395.6 L100.9 398.5 L101.9 399.3 L103.0 405.2 L104.2 423.0 L105.3 428.9 L106.4 432.6 L107.8 433.3 L108.9 420.0 L109.8 399.3 L110.4 388.9 L111.6 387.4 L112.4 391.9 L113.3 397.0 L114.5 395.6 L115.7 396.3 L116.3 388.9 L117.2 384.4 L118.2 383.7 L119.0 387.4 L120.2 384.4 L121.2 378.5 L121.9 375.6 L123.1 377.8 L124.2 374.8 L125.6 374.4 L126.7 377.0 L127.8 383.0 L129.0 378.5 L130.2 380.0 L131.6 385.2 L133.9 360.0 L135.3 344.9 L136.8 328.0 L138.0 328.0 L138.9 330.7 L139.8 313.8 L141.0 311.1 L142.4 306.7 L143.9 305.8 L145.1 306.7 L146.4 299.6 L147.4 305.8 L148.7 307.6 L149.9 303.1 L151.3 302.2 L152.8 300.4 L154.0 303.1 L155.2 300.4 L156.7 299.6 L158.1 286.2 L159.0 283.6 L160.6 285.3 L162.0 285.3 L162.9 293.3 L164.1 300.4 L165.2 296.9 L166.4 307.6 L167.3 296.9 L168.8 295.1 L170.0 307.6 L171.2 314.7 L172.3 322.7 L173.6 327.1 L175.3 330.7 L176.6 334.2 L177.6 314.7 L178.9 308.4 L180.1 316.4 L181.2 318.2 L182.4 334.2 L183.7 338.7 L184.8 325.3 L186.0 320.9 L187.2 321.8 L188.3 328.0 L189.6 320.0 L190.8 309.3 L191.9 304.9 L193.1 304.9 L194.4 297.8 L195.8 295.1 L197.2 298.7 L198.4 302.2 L199.7 301.3 L201.1 292.4 L202.5 291.6 L203.8 300.4 L205.0 301.3 L206.4 302.2 L207.9 289.8 L209.1 276.4 L210.4 275.6 L211.8 277.3 L213.2 284.4 L214.4 288.9 L215.7 291.6 L217.1 291.6 L218.5 286.2 L219.8 289.8 L220.7 296.9 L222.1 282.7 L223.3 276.4 L224.6 276.4 L226.0 282.7 L226.9 292.4 L228.1 280.9 L229.2 284.4 L230.4 288.0 L231.7 287.1 L233.1 280.9 L234.5 269.3 L235.8 268.4 L237.0 269.3 L238.1 278.2 L239.3 280.0 L240.6 273.8 L242.0 274.7 L243.4 273.8 L244.7 271.1 L245.9 274.7 L247.3 277.3 L248.7 278.5 L250.0 283.7 L251.0 288.9 L252.4 281.6 L254.1 280.6 L255.3 269.2 L256.2 253.6 L257.6 251.6 L259.1 254.7 L260.7 256.3 L261.8 257.2 L262.8 242.2 L263.9 238.1 L264.9 218.4 L266.3 217.3 L267.6 213.2 L269.0 203.8 L270.7 212.2 L271.5 204.9 L272.8 205.9 L273.8 202.8 L275.3 211.1 L276.3 224.6 L277.3 227.7 L279.0 217.3 L280.4 210.1 L282.1 202.8 L283.6 201.8 L285.2 203.8 L286.7 202.8 L288.1 199.7 L289.4 196.6 L290.8 201.8 L291.9 200.7 L293.1 207.0 L294.4 213.2 L296.0 209.0 L297.0 210.1 L298.5 217.3 L299.7 213.2 L301.2 221.5 L302.2 224.6 L303.3 217.3 L304.7 209.0 L306.0 220.4 L307.4 226.7 L308.9 227.7 L310.1 222.5 L311.1 224.6 L312.2 235.0 L313.0 236.0 L314.3 250.5 L315.1 256.8 L316.3 248.4 L317.4 243.3 L318.8 250.5 L320.3 246.4 L321.5 247.4 L322.6 243.3 L323.6 252.6 L324.6 240.2 L325.7 227.7 L327.1 224.6 L328.4 228.8 L329.6 220.4 L330.6 229.8 L331.7 236.0 L332.9 244.3 L333.8 253.6 L335.4 257.8 L336.4 250.5 L337.5 247.4 L338.7 256.8 L339.6 264.0 L340.8 270.2 L342.1 269.2 L343.1 260.9 L344.3 255.7 L345.4 252.6 L346.8 251.6 L348.3 252.6 L349.5 263.0 L350.6 271.3 L351.6 288.9 L353.1 289.9 L354.1 273.3 L355.3 263.0 L356.6 265.0 L357.8 274.4 L358.9 279.6 L360.3 277.5 L361.6 283.7 L362.8 286.8 L364.0 287.9 L365.3 289.9 L366.5 300.3 L367.6 310.7 L368.6 300.3 L369.6 289.9 L371.1 289.9 L372.3 296.2 L373.8 300.3 L375.2 294.1 L376.5 293.1 L377.7 279.6 L378.1 277.9 L379.1 267.3 L380.6 264.4 L381.9 266.3 L383.1 267.3 L384.4 262.4 L385.8 258.6 L387.3 259.6 L388.9 259.6 L390.2 254.8 L391.6 247.0 L392.7 242.2 L393.9 231.6 L395.0 229.7 L396.2 221.0 L397.5 216.2 L398.5 223.0 L399.3 223.9 L400.4 229.7 L401.8 230.7 L403.1 230.7 L404.3 226.8 L405.6 225.9 L407.0 225.9 L408.5 226.8 L409.9 224.9 L411.2 226.8 L412.4 221.0 L413.9 221.0 L415.3 222.0 L416.2 227.8 L417.0 239.3 L417.8 222.0 L419.1 218.2 L420.5 216.2 L421.6 208.5 L423.0 203.7 L423.9 207.6 L424.9 210.4 L426.2 208.5 L427.8 209.5 L428.9 211.4 L430.1 218.2 L431.2 225.9 L432.6 226.8 L433.6 235.5 L434.7 245.1 L435.9 252.8 L437.4 254.8 L438.9 253.8 L439.9 246.1 L441.3 244.2 L442.4 243.2 L443.6 247.0 L445.1 249.0 L446.7 250.9 L447.4 229.7 L448.4 228.7 L449.4 239.3 L450.5 235.5 L451.7 226.8 L452.8 226.8 L454.0 227.8 L455.1 221.0 L456.7 221.0 L458.2 221.6 L459.2 221.0 L460.1 226.8 L461.5 228.7 L462.8 228.7 L463.8 223.9 L464.4 216.2 L465.3 225.9 L466.3 234.5 L467.5 230.7 L468.8 229.7 L470.1 230.1 L472.1 229.7 L474.0 230.1 L475.9 230.7 L477.5 232.6 L478.4 229.7 L479.4 217.2 L480.2 206.6 L481.3 204.7 L482.7 200.8 L483.6 197.0 L484.8 197.9 L485.9 194.1 L487.1 193.1 L488.3 195.0 L489.4 191.2 L491.0 190.8 L492.3 189.3 L493.6 188.3 L494.8 182.5 L496.2 181.6 L497.1 185.4 L499.3 181.4 L500.8 181.4 L501.6 190.7 L502.9 200.1 L504.1 213.6 L505.6 214.6 L506.6 232.2 L507.6 248.8 L508.7 276.8 L510.1 275.8 L511.4 277.9 L512.4 266.4 L513.4 267.5 L514.5 257.1 L515.5 248.8 L516.5 239.5 L518.0 238.4 L519.0 242.6 L520.1 232.2 L521.1 231.2 L522.1 225.0 L523.2 223.9 L524.2 226.0 L525.3 218.8 L526.5 221.9 L527.3 230.2 L528.4 244.7 L529.4 257.1 L529.8 270.6 L531.1 269.6 L532.1 259.2 L533.1 250.9 L534.2 244.7 L535.6 243.6 L537.3 243.6 L538.3 251.9 L539.4 263.3 L540.2 251.9 L541.4 250.9 L542.7 251.9 L543.5 266.4 L545.0 265.4 L546.0 267.5 L547.0 279.9 L548.1 289.3 L549.1 288.2 L550.1 295.5 L551.0 273.7 L551.6 250.9 L552.9 251.3 L554.7 251.3 L556.0 251.9 L557.0 257.1 L558.0 238.4 L558.9 228.1 L560.1 226.0 L561.1 226.0 L562.2 220.8 L563.6 219.8 L564.7 226.0 L565.5 213.6 L566.8 212.5 L567.8 214.6 L568.8 203.2 L570.1 200.1 L571.3 194.9 L572.1 194.4 L573.3 190.0 L574.6 184.7 L575.6 182.9 L576.9 172.2 L577.8 168.7 L578.8 167.8 L579.9 161.6 L581.0 159.8 L582.2 158.0 L583.1 161.6 L584.2 163.3 L585.2 158.9 L586.3 152.7 L587.6 154.4 L588.4 148.2 L589.9 147.3 L591.1 146.4 L592.0 142.0 L593.1 141.1 L594.1 144.7 L595.2 131.3 L596.4 132.2 L597.3 138.4 L598.4 128.7 L599.5 124.2 L600.5 125.1 L601.2 136.7 L602.0 149.1 L603.0 150.9 L604.4 150.9 L605.3 159.8 L606.2 181.1 L607.1 182.9 L608.0 173.1 L609.2 172.2 L610.3 169.6 L611.2 165.1 L611.9 170.4 L612.6 181.1 L613.7 184.7 L614.8 186.4 L616.0 188.2 L616.9 179.3 L618.0 178.4 L619.0 181.1 L619.7 162.4 L620.4 162.4 L621.3 178.4 L622.2 180.2 L623.3 182.9 L624.4 188.2 L625.4 189.1 L626.1 202.4 L627.2 186.4 L628.3 186.4 L629.0 198.9 L629.7 208.7 L630.8 209.6 L631.6 202.4 L632.5 197.1 L633.4 195.3 L634.7 196.2 L635.7 202.4 L636.4 191.8 L637.3 180.2 L638.2 173.1 L639.3 171.3 L640.4 170.4 L641.4 166.9 L642.5 166.9 L643.2 172.2 L643.9 181.1 L645.0 174.0 L646.2 173.1 L647.5 176.7 L648.5 175.8 L649.8 175.8 L650.7 180.2 L651.7 182.9 L652.8 183.8 L654.2 183.8 L655.5 184.7 L656.4 185.6 L657.1 174.0 L657.8 166.9 L658.8 167.8 L659.9 166.9 L660.6 159.8 L661.7 158.9 L662.4 166.9 L663.1 179.3 L664.2 171.3 L665.2 172.2 L666.3 170.4 L667.0 162.4 L668.1 164.2 L669.2 166.0 L670.2 174.0 L671.3 177.6 L672.4 178.4 L673.4 181.1 L674.5 183.8 L675.2 190.0 L676.3 182.9 L677.3 182.0 L678.0 182.7 L679.2 178.2 L680.3 178.2 L681.4 183.6 L682.4 188.0 L683.5 189.8 L684.6 186.2 L685.6 182.7 L686.5 180.9 L687.4 184.4 L688.3 192.4 L689.2 196.9 L690.4 196.0 L691.7 196.0 L692.8 200.4 L693.8 204.0 L694.9 204.0 L695.8 198.7 L696.7 192.4 L697.7 193.3 L698.4 201.3 L699.5 208.4 L700.6 211.1 L702.0 212.0 L703.1 204.9 L704.1 201.3 L705.2 198.7 L706.3 191.6 L707.3 188.9 L708.2 193.3 L709.1 189.8 L710.2 184.4 L711.2 175.6 L712.0 171.1 L712.7 179.1 L713.6 186.2 L714.8 188.0 L715.9 188.9 L716.9 188.0 L718.0 193.3 L719.1 199.6 L720.1 201.3 L721.2 203.1 L721.9 210.2 L722.6 205.8 L723.3 208.4 L724.0 223.6 L724.8 239.6 L725.5 251.1 L726.5 252.0 L727.2 239.6 L728.0 227.1 L729.0 226.2 L730.1 227.1 L730.8 218.2 L732.2 218.2 L732.9 223.6 L733.6 230.7 L734.4 239.6 L735.2 244.9 L736.1 241.3 L737.0 246.7 L737.6 253.8 L738.6 254.7 L739.3 244.9 L740.2 236.9 L741.1 227.1 L742.2 222.7 L743.2 222.7 L744.3 225.3 L745.4 219.1 L746.1 218.2 L746.8 207.6 L747.5 196.9 L748.2 186.2 L749.6 185.3 L750.9 185.3 L751.8 187.1 L752.5 191.6 L753.6 190.7 L754.3 200.4 L755.0 211.1 L756.0 218.2 L757.1 219.1 L758.2 221.8 L758.9 230.7 L759.6 234.2 L760.3 222.7 L761.0 229.8 L762.1 231.6 L763.5 231.6 L764.2 230.7 L764.9 207.6 L766.9 207.6 L769.6 207.6 L773.1 207.6 L776.0 207.6 L776.7 228.9 L777.0 260.0 L777.1 244.4 L777.1 287.8 L777.8 271.1 L778.9 266.7 L780.0 271.1 L781.3 272.2 L782.2 284.4 L783.1 296.7 L784.0 297.8 L784.9 305.6 L786.7 307.1 L788.9 307.6 L790.7 307.6 L791.3 324.4 L792.0 340.0 L792.7 324.4 L793.3 314.4 L794.7 315.6 L796.0 314.4 L796.9 306.7 L797.8 293.3 L798.7 284.4 L800.0 284.0 L800.9 288.9 L801.8 284.4 L802.7 277.8 L803.6 271.1 L804.4 263.3 L805.8 262.2 L806.7 264.4 L807.6 266.7 L808.4 257.8 L809.3 248.9 L810.2 240.0 L811.1 233.3 L812.4 232.9 L813.3 238.9 L814.7 236.7 L815.6 231.1 L816.9 230.0 L817.8 233.3 L818.9 238.9 L820.0 230.0 L821.3 224.4 L822.7 221.1 L824.0 220.0 L825.3 218.9 L826.2 212.2 L827.3 202.2 L828.2 208.9 L829.3 218.9 L830.7 217.8 L831.8 215.6 L832.8 215.8 L834.1 213.7 L835.3 201.3 L836.5 201.3 L837.8 197.1 L838.6 195.0 L839.5 201.3 L840.7 209.6 L841.9 206.4 L843.2 204.4 L844.4 197.1 L845.7 191.9 L846.9 189.9 L848.2 189.9 L849.4 186.8 L850.7 183.6 L851.9 184.7 L853.1 187.8 L854.4 188.8 L855.6 189.9 L856.9 185.7 L857.7 180.5 L858.5 166.0 L859.4 153.6 L860.6 152.5 L861.4 146.3 L862.3 138.0 L863.5 135.9 L864.4 144.2 L865.2 151.5 L866.0 160.8 L867.2 165.0 L868.1 170.2 L868.9 172.2 L869.7 159.8 L870.6 159.8 L871.4 171.2 L872.6 170.2 L873.5 168.1 L874.3 156.7 L875.1 144.2 L876.0 134.9 L877.2 131.8 L878.0 133.8 L878.9 135.9 L880.1 137.0 L880.9 143.2 L881.8 146.3 L882.6 139.0 L883.8 133.8 L885.1 132.8 L886.3 130.7 L887.2 124.5 L888.4 119.3 L890.1 118.7 L891.7 119.3 L893.4 119.3 L894.6 124.5 L895.9 121.4 L897.1 118.7 L898.4 118.3 L899.6 117.9 L900.4 117.3 L901.3 121.4 L902.5 124.5 L903.8 124.1 L905.0 124.9 L905.8 137.0 L906.7 154.6 L907.5 172.2 L908.3 181.6 L909.1 176.4 L910.4 175.3 L911.2 182.6 L912.0 178.4 L912.9 170.2 L913.7 160.8 L914.8 161.9 L915.8 166.0 L916.6 168.1 L917.5 164.3 L918.7 165.0 L919.5 174.3 L920.4 188.8 L921.2 198.2 L922.0 189.9 L923.0 181.6 L924.1 182.6 L924.9 188.8 L925.7 195.0 L927.0 198.2 L927.7 198.0 L928.8 200.2 L929.6 201.6 L930.5 193.8 L931.3 186.8 L932.2 181.2 L933.0 176.2 L934.1 175.8 L935.3 175.5 L936.1 168.5 L937.0 166.4 L937.8 170.6 L938.6 172.7 L939.6 174.1 L940.6 174.8 L941.5 167.1 L942.3 157.2 L943.1 155.8 L944.0 155.8 L944.8 161.4 L945.7 167.1 L946.5 168.5 L947.4 169.2 L948.2 170.6 L949.1 171.3 L949.9 175.5 L951.0 172.7 L951.9 169.2 L952.7 167.8 L953.6 161.4 L954.4 151.6 L955.2 138.9 L955.8 130.5 L956.7 128.4 L957.5 130.5 L958.4 132.6 L959.2 134.0 L960.0 134.0 L960.9 137.5 L961.5 141.0 L962.0 164.3 L962.2 204.8 L962.5 218.9 L963.4 215.9 L964.4 215.2 L965.5 213.0 L966.7 211.5 L967.6 213.7 L968.4 215.9 L969.6 216.7 L970.8 217.4 L971.9 218.9 L972.6 210.7 L973.5 203.3 L974.4 202.6 L975.3 206.3 L975.9 214.4 L976.7 211.5 L977.6 210.7 L978.5 208.5 L979.1 216.7 L979.7 233.7 L980.6 227.0 L981.5 226.3 L982.1 235.9 L982.7 247.0 L983.6 248.5 L984.4 249.3 L985.0 258.1 L985.6 267.0 L986.2 277.4 L987.1 275.9 L987.7 265.6 L988.3 261.1 L989.2 269.3 L990.1 270.0 L991.0 264.1 L991.6 255.2 L992.1 264.1 L992.7 274.4 L993.3 280.4 L993.9 275.9 L994.4 267.0" stroke-width="5" stroke-opacity="0.05"/>
<path d="M36.0 394.8 L37.2 399.3 L38.7 409.6 L40.1 412.6 L41.6 405.2 L42.7 392.6 L43.4 391.9 L44.1 402.2 L45.2 399.3 L46.1 403.7 L47.1 405.9 L48.1 402.2 L49.0 397.8 L50.1 399.3 L50.8 384.4 L51.6 374.8 L52.6 375.6 L53.8 368.9 L55.0 371.9 L56.0 371.9 L57.0 380.0 L57.9 388.1 L59.1 387.4 L60.0 399.3 L61.2 415.6 L62.7 420.0 L64.2 422.2 L65.6 417.0 L66.8 411.1 L67.8 391.9 L68.9 386.7 L69.8 391.9 L70.8 405.2 L72.3 415.6 L73.3 406.7 L74.5 404.4 L75.7 406.7 L76.7 408.1 L78.2 397.8 L79.3 399.3 L80.4 409.6 L81.9 419.3 L83.1 421.5 L84.2 414.1 L85.2 417.0 L86.4 427.4 L87.1 430.4 L88.2 417.0 L89.0 414.1 L90.1 423.0 L90.8 425.2 L92.0 405.2 L93.0 393.3 L94.5 388.9 L96.4 386.7 L97.9 391.1 L99.4 395.6 L100.9 398.5 L101.9 399.3 L103.0 405.2 L104.2 423.0 L105.3 428.9 L106.4 432.6 L107.8 433.3 L108.9 420.0 L109.8 399.3 L110.4 388.9 L111.6 387.4 L112.4 391.9 L113.3 397.0 L114.5 395.6 L115.7 396.3 L116.3 388.9 L117.2 384.4 L118.2 383.7 L119.0 387.4 L120.2 384.4 L121.2 378.5 L121.9 375.6 L123.1 377.8 L124.2 374.8 L125.6 374.4 L126.7 377.0 L127.8 383.0 L129.0 378.5 L130.2 380.0 L131.6 385.2 L133.9 360.0 L135.3 344.9 L136.8 328.0 L138.0 328.0 L138.9 330.7 L139.8 313.8 L141.0 311.1 L142.4 306.7 L143.9 305.8 L145.1 306.7 L146.4 299.6 L147.4 305.8 L148.7 307.6 L149.9 303.1 L151.3 302.2 L152.8 300.4 L154.0 303.1 L155.2 300.4 L156.7 299.6 L158.1 286.2 L159.0 283.6 L160.6 285.3 L162.0 285.3 L162.9 293.3 L164.1 300.4 L165.2 296.9 L166.4 307.6 L167.3 296.9 L168.8 295.1 L170.0 307.6 L171.2 314.7 L172.3 322.7 L173.6 327.1 L175.3 330.7 L176.6 334.2 L177.6 314.7 L178.9 308.4 L180.1 316.4 L181.2 318.2 L182.4 334.2 L183.7 338.7 L184.8 325.3 L186.0 320.9 L187.2 321.8 L188.3 328.0 L189.6 320.0 L190.8 309.3 L191.9 304.9 L193.1 304.9 L194.4 297.8 L195.8 295.1 L197.2 298.7 L198.4 302.2 L199.7 301.3 L201.1 292.4 L202.5 291.6 L203.8 300.4 L205.0 301.3 L206.4 302.2 L207.9 289.8 L209.1 276.4 L210.4 275.6 L211.8 277.3 L213.2 284.4 L214.4 288.9 L215.7 291.6 L217.1 291.6 L218.5 286.2 L219.8 289.8 L220.7 296.9 L222.1 282.7 L223.3 276.4 L224.6 276.4 L226.0 282.7 L226.9 292.4 L228.1 280.9 L229.2 284.4 L230.4 288.0 L231.7 287.1 L233.1 280.9 L234.5 269.3 L235.8 268.4 L237.0 269.3 L238.1 278.2 L239.3 280.0 L240.6 273.8 L242.0 274.7 L243.4 273.8 L244.7 271.1 L245.9 274.7 L247.3 277.3 L248.7 278.5 L250.0 283.7 L251.0 288.9 L252.4 281.6 L254.1 280.6 L255.3 269.2 L256.2 253.6 L257.6 251.6 L259.1 254.7 L260.7 256.3 L261.8 257.2 L262.8 242.2 L263.9 238.1 L264.9 218.4 L266.3 217.3 L267.6 213.2 L269.0 203.8 L270.7 212.2 L271.5 204.9 L272.8 205.9 L273.8 202.8 L275.3 211.1 L276.3 224.6 L277.3 227.7 L279.0 217.3 L280.4 210.1 L282.1 202.8 L283.6 201.8 L285.2 203.8 L286.7 202.8 L288.1 199.7 L289.4 196.6 L290.8 201.8 L291.9 200.7 L293.1 207.0 L294.4 213.2 L296.0 209.0 L297.0 210.1 L298.5 217.3 L299.7 213.2 L301.2 221.5 L302.2 224.6 L303.3 217.3 L304.7 209.0 L306.0 220.4 L307.4 226.7 L308.9 227.7 L310.1 222.5 L311.1 224.6 L312.2 235.0 L313.0 236.0 L314.3 250.5 L315.1 256.8 L316.3 248.4 L317.4 243.3 L318.8 250.5 L320.3 246.4 L321.5 247.4 L322.6 243.3 L323.6 252.6 L324.6 240.2 L325.7 227.7 L327.1 224.6 L328.4 228.8 L329.6 220.4 L330.6 229.8 L331.7 236.0 L332.9 244.3 L333.8 253.6 L335.4 257.8 L336.4 250.5 L337.5 247.4 L338.7 256.8 L339.6 264.0 L340.8 270.2 L342.1 269.2 L343.1 260.9 L344.3 255.7 L345.4 252.6 L346.8 251.6 L348.3 252.6 L349.5 263.0 L350.6 271.3 L351.6 288.9 L353.1 289.9 L354.1 273.3 L355.3 263.0 L356.6 265.0 L357.8 274.4 L358.9 279.6 L360.3 277.5 L361.6 283.7 L362.8 286.8 L364.0 287.9 L365.3 289.9 L366.5 300.3 L367.6 310.7 L368.6 300.3 L369.6 289.9 L371.1 289.9 L372.3 296.2 L373.8 300.3 L375.2 294.1 L376.5 293.1 L377.7 279.6 L378.1 277.9 L379.1 267.3 L380.6 264.4 L381.9 266.3 L383.1 267.3 L384.4 262.4 L385.8 258.6 L387.3 259.6 L388.9 259.6 L390.2 254.8 L391.6 247.0 L392.7 242.2 L393.9 231.6 L395.0 229.7 L396.2 221.0 L397.5 216.2 L398.5 223.0 L399.3 223.9 L400.4 229.7 L401.8 230.7 L403.1 230.7 L404.3 226.8 L405.6 225.9 L407.0 225.9 L408.5 226.8 L409.9 224.9 L411.2 226.8 L412.4 221.0 L413.9 221.0 L415.3 222.0 L416.2 227.8 L417.0 239.3 L417.8 222.0 L419.1 218.2 L420.5 216.2 L421.6 208.5 L423.0 203.7 L423.9 207.6 L424.9 210.4 L426.2 208.5 L427.8 209.5 L428.9 211.4 L430.1 218.2 L431.2 225.9 L432.6 226.8 L433.6 235.5 L434.7 245.1 L435.9 252.8 L437.4 254.8 L438.9 253.8 L439.9 246.1 L441.3 244.2 L442.4 243.2 L443.6 247.0 L445.1 249.0 L446.7 250.9 L447.4 229.7 L448.4 228.7 L449.4 239.3 L450.5 235.5 L451.7 226.8 L452.8 226.8 L454.0 227.8 L455.1 221.0 L456.7 221.0 L458.2 221.6 L459.2 221.0 L460.1 226.8 L461.5 228.7 L462.8 228.7 L463.8 223.9 L464.4 216.2 L465.3 225.9 L466.3 234.5 L467.5 230.7 L468.8 229.7 L470.1 230.1 L472.1 229.7 L474.0 230.1 L475.9 230.7 L477.5 232.6 L478.4 229.7 L479.4 217.2 L480.2 206.6 L481.3 204.7 L482.7 200.8 L483.6 197.0 L484.8 197.9 L485.9 194.1 L487.1 193.1 L488.3 195.0 L489.4 191.2 L491.0 190.8 L492.3 189.3 L493.6 188.3 L494.8 182.5 L496.2 181.6 L497.1 185.4 L499.3 181.4 L500.8 181.4 L501.6 190.7 L502.9 200.1 L504.1 213.6 L505.6 214.6 L506.6 232.2 L507.6 248.8 L508.7 276.8 L510.1 275.8 L511.4 277.9 L512.4 266.4 L513.4 267.5 L514.5 257.1 L515.5 248.8 L516.5 239.5 L518.0 238.4 L519.0 242.6 L520.1 232.2 L521.1 231.2 L522.1 225.0 L523.2 223.9 L524.2 226.0 L525.3 218.8 L526.5 221.9 L527.3 230.2 L528.4 244.7 L529.4 257.1 L529.8 270.6 L531.1 269.6 L532.1 259.2 L533.1 250.9 L534.2 244.7 L535.6 243.6 L537.3 243.6 L538.3 251.9 L539.4 263.3 L540.2 251.9 L541.4 250.9 L542.7 251.9 L543.5 266.4 L545.0 265.4 L546.0 267.5 L547.0 279.9 L548.1 289.3 L549.1 288.2 L550.1 295.5 L551.0 273.7 L551.6 250.9 L552.9 251.3 L554.7 251.3 L556.0 251.9 L557.0 257.1 L558.0 238.4 L558.9 228.1 L560.1 226.0 L561.1 226.0 L562.2 220.8 L563.6 219.8 L564.7 226.0 L565.5 213.6 L566.8 212.5 L567.8 214.6 L568.8 203.2 L570.1 200.1 L571.3 194.9 L572.1 194.4 L573.3 190.0 L574.6 184.7 L575.6 182.9 L576.9 172.2 L577.8 168.7 L578.8 167.8 L579.9 161.6 L581.0 159.8 L582.2 158.0 L583.1 161.6 L584.2 163.3 L585.2 158.9 L586.3 152.7 L587.6 154.4 L588.4 148.2 L589.9 147.3 L591.1 146.4 L592.0 142.0 L593.1 141.1 L594.1 144.7 L595.2 131.3 L596.4 132.2 L597.3 138.4 L598.4 128.7 L599.5 124.2 L600.5 125.1 L601.2 136.7 L602.0 149.1 L603.0 150.9 L604.4 150.9 L605.3 159.8 L606.2 181.1 L607.1 182.9 L608.0 173.1 L609.2 172.2 L610.3 169.6 L611.2 165.1 L611.9 170.4 L612.6 181.1 L613.7 184.7 L614.8 186.4 L616.0 188.2 L616.9 179.3 L618.0 178.4 L619.0 181.1 L619.7 162.4 L620.4 162.4 L621.3 178.4 L622.2 180.2 L623.3 182.9 L624.4 188.2 L625.4 189.1 L626.1 202.4 L627.2 186.4 L628.3 186.4 L629.0 198.9 L629.7 208.7 L630.8 209.6 L631.6 202.4 L632.5 197.1 L633.4 195.3 L634.7 196.2 L635.7 202.4 L636.4 191.8 L637.3 180.2 L638.2 173.1 L639.3 171.3 L640.4 170.4 L641.4 166.9 L642.5 166.9 L643.2 172.2 L643.9 181.1 L645.0 174.0 L646.2 173.1 L647.5 176.7 L648.5 175.8 L649.8 175.8 L650.7 180.2 L651.7 182.9 L652.8 183.8 L654.2 183.8 L655.5 184.7 L656.4 185.6 L657.1 174.0 L657.8 166.9 L658.8 167.8 L659.9 166.9 L660.6 159.8 L661.7 158.9 L662.4 166.9 L663.1 179.3 L664.2 171.3 L665.2 172.2 L666.3 170.4 L667.0 162.4 L668.1 164.2 L669.2 166.0 L670.2 174.0 L671.3 177.6 L672.4 178.4 L673.4 181.1 L674.5 183.8 L675.2 190.0 L676.3 182.9 L677.3 182.0 L678.0 182.7 L679.2 178.2 L680.3 178.2 L681.4 183.6 L682.4 188.0 L683.5 189.8 L684.6 186.2 L685.6 182.7 L686.5 180.9 L687.4 184.4 L688.3 192.4 L689.2 196.9 L690.4 196.0 L691.7 196.0 L692.8 200.4 L693.8 204.0 L694.9 204.0 L695.8 198.7 L696.7 192.4 L697.7 193.3 L698.4 201.3 L699.5 208.4 L700.6 211.1 L702.0 212.0 L703.1 204.9 L704.1 201.3 L705.2 198.7 L706.3 191.6 L707.3 188.9 L708.2 193.3 L709.1 189.8 L710.2 184.4 L711.2 175.6 L712.0 171.1 L712.7 179.1 L713.6 186.2 L714.8 188.0 L715.9 188.9 L716.9 188.0 L718.0 193.3 L719.1 199.6 L720.1 201.3 L721.2 203.1 L721.9 210.2 L722.6 205.8 L723.3 208.4 L724.0 223.6 L724.8 239.6 L725.5 251.1 L726.5 252.0 L727.2 239.6 L728.0 227.1 L729.0 226.2 L730.1 227.1 L730.8 218.2 L732.2 218.2 L732.9 223.6 L733.6 230.7 L734.4 239.6 L735.2 244.9 L736.1 241.3 L737.0 246.7 L737.6 253.8 L738.6 254.7 L739.3 244.9 L740.2 236.9 L741.1 227.1 L742.2 222.7 L743.2 222.7 L744.3 225.3 L745.4 219.1 L746.1 218.2 L746.8 207.6 L747.5 196.9 L748.2 186.2 L749.6 185.3 L750.9 185.3 L751.8 187.1 L752.5 191.6 L753.6 190.7 L754.3 200.4 L755.0 211.1 L756.0 218.2 L757.1 219.1 L758.2 221.8 L758.9 230.7 L759.6 234.2 L760.3 222.7 L761.0 229.8 L762.1 231.6 L763.5 231.6 L764.2 230.7 L764.9 207.6 L766.9 207.6 L769.6 207.6 L773.1 207.6 L776.0 207.6 L776.7 228.9 L777.0 260.0 L777.1 244.4 L777.1 287.8 L777.8 271.1 L778.9 266.7 L780.0 271.1 L781.3 272.2 L782.2 284.4 L783.1 296.7 L784.0 297.8 L784.9 305.6 L786.7 307.1 L788.9 307.6 L790.7 307.6 L791.3 324.4 L792.0 340.0 L792.7 324.4 L793.3 314.4 L794.7 315.6 L796.0 314.4 L796.9 306.7 L797.8 293.3 L798.7 284.4 L800.0 284.0 L800.9 288.9 L801.8 284.4 L802.7 277.8 L803.6 271.1 L804.4 263.3 L805.8 262.2 L806.7 264.4 L807.6 266.7 L808.4 257.8 L809.3 248.9 L810.2 240.0 L811.1 233.3 L812.4 232.9 L813.3 238.9 L814.7 236.7 L815.6 231.1 L816.9 230.0 L817.8 233.3 L818.9 238.9 L820.0 230.0 L821.3 224.4 L822.7 221.1 L824.0 220.0 L825.3 218.9 L826.2 212.2 L827.3 202.2 L828.2 208.9 L829.3 218.9 L830.7 217.8 L831.8 215.6 L832.8 215.8 L834.1 213.7 L835.3 201.3 L836.5 201.3 L837.8 197.1 L838.6 195.0 L839.5 201.3 L840.7 209.6 L841.9 206.4 L843.2 204.4 L844.4 197.1 L845.7 191.9 L846.9 189.9 L848.2 189.9 L849.4 186.8 L850.7 183.6 L851.9 184.7 L853.1 187.8 L854.4 188.8 L855.6 189.9 L856.9 185.7 L857.7 180.5 L858.5 166.0 L859.4 153.6 L860.6 152.5 L861.4 146.3 L862.3 138.0 L863.5 135.9 L864.4 144.2 L865.2 151.5 L866.0 160.8 L867.2 165.0 L868.1 170.2 L868.9 172.2 L869.7 159.8 L870.6 159.8 L871.4 171.2 L872.6 170.2 L873.5 168.1 L874.3 156.7 L875.1 144.2 L876.0 134.9 L877.2 131.8 L878.0 133.8 L878.9 135.9 L880.1 137.0 L880.9 143.2 L881.8 146.3 L882.6 139.0 L883.8 133.8 L885.1 132.8 L886.3 130.7 L887.2 124.5 L888.4 119.3 L890.1 118.7 L891.7 119.3 L893.4 119.3 L894.6 124.5 L895.9 121.4 L897.1 118.7 L898.4 118.3 L899.6 117.9 L900.4 117.3 L901.3 121.4 L902.5 124.5 L903.8 124.1 L905.0 124.9 L905.8 137.0 L906.7 154.6 L907.5 172.2 L908.3 181.6 L909.1 176.4 L910.4 175.3 L911.2 182.6 L912.0 178.4 L912.9 170.2 L913.7 160.8 L914.8 161.9 L915.8 166.0 L916.6 168.1 L917.5 164.3 L918.7 165.0 L919.5 174.3 L920.4 188.8 L921.2 198.2 L922.0 189.9 L923.0 181.6 L924.1 182.6 L924.9 188.8 L925.7 195.0 L927.0 198.2 L927.7 198.0 L928.8 200.2 L929.6 201.6 L930.5 193.8 L931.3 186.8 L932.2 181.2 L933.0 176.2 L934.1 175.8 L935.3 175.5 L936.1 168.5 L937.0 166.4 L937.8 170.6 L938.6 172.7 L939.6 174.1 L940.6 174.8 L941.5 167.1 L942.3 157.2 L943.1 155.8 L944.0 155.8 L944.8 161.4 L945.7 167.1 L946.5 168.5 L947.4 169.2 L948.2 170.6 L949.1 171.3 L949.9 175.5 L951.0 172.7 L951.9 169.2 L952.7 167.8 L953.6 161.4 L954.4 151.6 L955.2 138.9 L955.8 130.5 L956.7 128.4 L957.5 130.5 L958.4 132.6 L959.2 134.0 L960.0 134.0 L960.9 137.5 L961.5 141.0 L962.0 164.3 L962.2 204.8 L962.5 218.9 L963.4 215.9 L964.4 215.2 L965.5 213.0 L966.7 211.5 L967.6 213.7 L968.4 215.9 L969.6 216.7 L970.8 217.4 L971.9 218.9 L972.6 210.7 L973.5 203.3 L974.4 202.6 L975.3 206.3 L975.9 214.4 L976.7 211.5 L977.6 210.7 L978.5 208.5 L979.1 216.7 L979.7 233.7 L980.6 227.0 L981.5 226.3 L982.1 235.9 L982.7 247.0 L983.6 248.5 L984.4 249.3 L985.0 258.1 L985.6 267.0 L986.2 277.4 L987.1 275.9 L987.7 265.6 L988.3 261.1 L989.2 269.3 L990.1 270.0 L991.0 264.1 L991.6 255.2 L992.1 264.1 L992.7 274.4 L993.3 280.4 L993.9 275.9 L994.4 267.0" stroke-width="3" stroke-opacity="0.05"/>
</g>
<path d="M36.0 394.8 L37.2 399.3 L38.7 409.6 L40.1 412.6 L41.6 405.2 L42.7 392.6 L43.4 391.9 L44.1 402.2 L45.2 399.3 L46.1 403.7 L47.1 405.9 L48.1 402.2 L49.0 397.8 L50.1 399.3 L50.8 384.4 L51.6 374.8 L52.6 375.6 L53.8 368.9 L55.0 371.9 L56.0 371.9 L57.0 380.0 L57.9 388.1 L59.1 387.4 L60.0 399.3 L61.2 415.6 L62.7 420.0 L64.2 422.2 L65.6 417.0 L66.8 411.1 L67.8 391.9 L68.9 386.7 L69.8 391.9 L70.8 405.2 L72.3 415.6 L73.3 406.7 L74.5 404.4 L75.7 406.7 L76.7 408.1 L78.2 397.8 L79.3 399.3 L80.4 409.6 L81.9 419.3 L83.1 421.5 L84.2 414.1 L85.2 417.0 L86.4 427.4 L87.1 430.4 L88.2 417.0 L89.0 414.1 L90.1 423.0 L90.8 425.2 L92.0 405.2 L93.0 393.3 L94.5 388.9 L96.4 386.7 L97.9 391.1 L99.4 395.6 L100.9 398.5 L101.9 399.3 L103.0 405.2 L104.2 423.0 L105.3 428.9 L106.4 432.6 L107.8 433.3 L108.9 420.0 L109.8 399.3 L110.4 388.9 L111.6 387.4 L112.4 391.9 L113.3 397.0 L114.5 395.6 L115.7 396.3 L116.3 388.9 L117.2 384.4 L118.2 383.7 L119.0 387.4 L120.2 384.4 L121.2 378.5 L121.9 375.6 L123.1 377.8 L124.2 374.8 L125.6 374.4 L126.7 377.0 L127.8 383.0 L129.0 378.5 L130.2 380.0 L131.6 385.2 L133.9 360.0 L135.3 344.9 L136.8 328.0 L138.0 328.0 L138.9 330.7 L139.8 313.8 L141.0 311.1 L142.4 306.7 L143.9 305.8 L145.1 306.7 L146.4 299.6 L147.4 305.8 L148.7 307.6 L149.9 303.1 L151.3 302.2 L152.8 300.4 L154.0 303.1 L155.2 300.4 L156.7 299.6 L158.1 286.2 L159.0 283.6 L160.6 285.3 L162.0 285.3 L162.9 293.3 L164.1 300.4 L165.2 296.9 L166.4 307.6 L167.3 296.9 L168.8 295.1 L170.0 307.6 L171.2 314.7 L172.3 322.7 L173.6 327.1 L175.3 330.7 L176.6 334.2 L177.6 314.7 L178.9 308.4 L180.1 316.4 L181.2 318.2 L182.4 334.2 L183.7 338.7 L184.8 325.3 L186.0 320.9 L187.2 321.8 L188.3 328.0 L189.6 320.0 L190.8 309.3 L191.9 304.9 L193.1 304.9 L194.4 297.8 L195.8 295.1 L197.2 298.7 L198.4 302.2 L199.7 301.3 L201.1 292.4 L202.5 291.6 L203.8 300.4 L205.0 301.3 L206.4 302.2 L207.9 289.8 L209.1 276.4 L210.4 275.6 L211.8 277.3 L213.2 284.4 L214.4 288.9 L215.7 291.6 L217.1 291.6 L218.5 286.2 L219.8 289.8 L220.7 296.9 L222.1 282.7 L223.3 276.4 L224.6 276.4 L226.0 282.7 L226.9 292.4 L228.1 280.9 L229.2 284.4 L230.4 288.0 L231.7 287.1 L233.1 280.9 L234.5 269.3 L235.8 268.4 L237.0 269.3 L238.1 278.2 L239.3 280.0 L240.6 273.8 L242.0 274.7 L243.4 273.8 L244.7 271.1 L245.9 274.7 L247.3 277.3 L248.7 278.5 L250.0 283.7 L251.0 288.9 L252.4 281.6 L254.1 280.6 L255.3 269.2 L256.2 253.6 L257.6 251.6 L259.1 254.7 L260.7 256.3 L261.8 257.2 L262.8 242.2 L263.9 238.1 L264.9 218.4 L266.3 217.3 L267.6 213.2 L269.0 203.8 L270.7 212.2 L271.5 204.9 L272.8 205.9 L273.8 202.8 L275.3 211.1 L276.3 224.6 L277.3 227.7 L279.0 217.3 L280.4 210.1 L282.1 202.8 L283.6 201.8 L285.2 203.8 L286.7 202.8 L288.1 199.7 L289.4 196.6 L290.8 201.8 L291.9 200.7 L293.1 207.0 L294.4 213.2 L296.0 209.0 L297.0 210.1 L298.5 217.3 L299.7 213.2 L301.2 221.5 L302.2 224.6 L303.3 217.3 L304.7 209.0 L306.0 220.4 L307.4 226.7 L308.9 227.7 L310.1 222.5 L311.1 224.6 L312.2 235.0 L313.0 236.0 L314.3 250.5 L315.1 256.8 L316.3 248.4 L317.4 243.3 L318.8 250.5 L320.3 246.4 L321.5 247.4 L322.6 243.3 L323.6 252.6 L324.6 240.2 L325.7 227.7 L327.1 224.6 L328.4 228.8 L329.6 220.4 L330.6 229.8 L331.7 236.0 L332.9 244.3 L333.8 253.6 L335.4 257.8 L336.4 250.5 L337.5 247.4 L338.7 256.8 L339.6 264.0 L340.8 270.2 L342.1 269.2 L343.1 260.9 L344.3 255.7 L345.4 252.6 L346.8 251.6 L348.3 252.6 L349.5 263.0 L350.6 271.3 L351.6 288.9 L353.1 289.9 L354.1 273.3 L355.3 263.0 L356.6 265.0 L357.8 274.4 L358.9 279.6 L360.3 277.5 L361.6 283.7 L362.8 286.8 L364.0 287.9 L365.3 289.9 L366.5 300.3 L367.6 310.7 L368.6 300.3 L369.6 289.9 L371.1 289.9 L372.3 296.2 L373.8 300.3 L375.2 294.1 L376.5 293.1 L377.7 279.6 L378.1 277.9 L379.1 267.3 L380.6 264.4 L381.9 266.3 L383.1 267.3 L384.4 262.4 L385.8 258.6 L387.3 259.6 L388.9 259.6 L390.2 254.8 L391.6 247.0 L392.7 242.2 L393.9 231.6 L395.0 229.7 L396.2 221.0 L397.5 216.2 L398.5 223.0 L399.3 223.9 L400.4 229.7 L401.8 230.7 L403.1 230.7 L404.3 226.8 L405.6 225.9 L407.0 225.9 L408.5 226.8 L409.9 224.9 L411.2 226.8 L412.4 221.0 L413.9 221.0 L415.3 222.0 L416.2 227.8 L417.0 239.3 L417.8 222.0 L419.1 218.2 L420.5 216.2 L421.6 208.5 L423.0 203.7 L423.9 207.6 L424.9 210.4 L426.2 208.5 L427.8 209.5 L428.9 211.4 L430.1 218.2 L431.2 225.9 L432.6 226.8 L433.6 235.5 L434.7 245.1 L435.9 252.8 L437.4 254.8 L438.9 253.8 L439.9 246.1 L441.3 244.2 L442.4 243.2 L443.6 247.0 L445.1 249.0 L446.7 250.9 L447.4 229.7 L448.4 228.7 L449.4 239.3 L450.5 235.5 L451.7 226.8 L452.8 226.8 L454.0 227.8 L455.1 221.0 L456.7 221.0 L458.2 221.6 L459.2 221.0 L460.1 226.8 L461.5 228.7 L462.8 228.7 L463.8 223.9 L464.4 216.2 L465.3 225.9 L466.3 234.5 L467.5 230.7 L468.8 229.7 L470.1 230.1 L472.1 229.7 L474.0 230.1 L475.9 230.7 L477.5 232.6 L478.4 229.7 L479.4 217.2 L480.2 206.6 L481.3 204.7 L482.7 200.8 L483.6 197.0 L484.8 197.9 L485.9 194.1 L487.1 193.1 L488.3 195.0 L489.4 191.2 L491.0 190.8 L492.3 189.3 L493.6 188.3 L494.8 182.5 L496.2 181.6 L497.1 185.4 L499.3 181.4 L500.8 181.4 L501.6 190.7 L502.9 200.1 L504.1 213.6 L505.6 214.6 L506.6 232.2 L507.6 248.8 L508.7 276.8 L510.1 275.8 L511.4 277.9 L512.4 266.4 L513.4 267.5 L514.5 257.1 L515.5 248.8 L516.5 239.5 L518.0 238.4 L519.0 242.6 L520.1 232.2 L521.1 231.2 L522.1 225.0 L523.2 223.9 L524.2 226.0 L525.3 218.8 L526.5 221.9 L527.3 230.2 L528.4 244.7 L529.4 257.1 L529.8 270.6 L531.1 269.6 L532.1 259.2 L533.1 250.9 L534.2 244.7 L535.6 243.6 L537.3 243.6 L538.3 251.9 L539.4 263.3 L540.2 251.9 L541.4 250.9 L542.7 251.9 L543.5 266.4 L545.0 265.4 L546.0 267.5 L547.0 279.9 L548.1 289.3 L549.1 288.2 L550.1 295.5 L551.0 273.7 L551.6 250.9 L552.9 251.3 L554.7 251.3 L556.0 251.9 L557.0 257.1 L558.0 238.4 L558.9 228.1 L560.1 226.0 L561.1 226.0 L562.2 220.8 L563.6 219.8 L564.7 226.0 L565.5 213.6 L566.8 212.5 L567.8 214.6 L568.8 203.2 L570.1 200.1 L571.3 194.9 L572.1 194.4 L573.3 190.0 L574.6 184.7 L575.6 182.9 L576.9 172.2 L577.8 168.7 L578.8 167.8 L579.9 161.6 L581.0 159.8 L582.2 158.0 L583.1 161.6 L584.2 163.3 L585.2 158.9 L586.3 152.7 L587.6 154.4 L588.4 148.2 L589.9 147.3 L591.1 146.4 L592.0 142.0 L593.1 141.1 L594.1 144.7 L595.2 131.3 L596.4 132.2 L597.3 138.4 L598.4 128.7 L599.5 124.2 L600.5 125.1 L601.2 136.7 L602.0 149.1 L603.0 150.9 L604.4 150.9 L605.3 159.8 L606.2 181.1 L607.1 182.9 L608.0 173.1 L609.2 172.2 L610.3 169.6 L611.2 165.1 L611.9 170.4 L612.6 181.1 L613.7 184.7 L614.8 186.4 L616.0 188.2 L616.9 179.3 L618.0 178.4 L619.0 181.1 L619.7 162.4 L620.4 162.4 L621.3 178.4 L622.2 180.2 L623.3 182.9 L624.4 188.2 L625.4 189.1 L626.1 202.4 L627.2 186.4 L628.3 186.4 L629.0 198.9 L629.7 208.7 L630.8 209.6 L631.6 202.4 L632.5 197.1 L633.4 195.3 L634.7 196.2 L635.7 202.4 L636.4 191.8 L637.3 180.2 L638.2 173.1 L639.3 171.3 L640.4 170.4 L641.4 166.9 L642.5 166.9 L643.2 172.2 L643.9 181.1 L645.0 174.0 L646.2 173.1 L647.5 176.7 L648.5 175.8 L649.8 175.8 L650.7 180.2 L651.7 182.9 L652.8 183.8 L654.2 183.8 L655.5 184.7 L656.4 185.6 L657.1 174.0 L657.8 166.9 L658.8 167.8 L659.9 166.9 L660.6 159.8 L661.7 158.9 L662.4 166.9 L663.1 179.3 L664.2 171.3 L665.2 172.2 L666.3 170.4 L667.0 162.4 L668.1 164.2 L669.2 166.0 L670.2 174.0 L671.3 177.6 L672.4 178.4 L673.4 181.1 L674.5 183.8 L675.2 190.0 L676.3 182.9 L677.3 182.0 L678.0 182.7 L679.2 178.2 L680.3 178.2 L681.4 183.6 L682.4 188.0 L683.5 189.8 L684.6 186.2 L685.6 182.7 L686.5 180.9 L687.4 184.4 L688.3 192.4 L689.2 196.9 L690.4 196.0 L691.7 196.0 L692.8 200.4 L693.8 204.0 L694.9 204.0 L695.8 198.7 L696.7 192.4 L697.7 193.3 L698.4 201.3 L699.5 208.4 L700.6 211.1 L702.0 212.0 L703.1 204.9 L704.1 201.3 L705.2 198.7 L706.3 191.6 L707.3 188.9 L708.2 193.3 L709.1 189.8 L710.2 184.4 L711.2 175.6 L712.0 171.1 L712.7 179.1 L713.6 186.2 L714.8 188.0 L715.9 188.9 L716.9 188.0 L718.0 193.3 L719.1 199.6 L720.1 201.3 L721.2 203.1 L721.9 210.2 L722.6 205.8 L723.3 208.4 L724.0 223.6 L724.8 239.6 L725.5 251.1 L726.5 252.0 L727.2 239.6 L728.0 227.1 L729.0 226.2 L730.1 227.1 L730.8 218.2 L732.2 218.2 L732.9 223.6 L733.6 230.7 L734.4 239.6 L735.2 244.9 L736.1 241.3 L737.0 246.7 L737.6 253.8 L738.6 254.7 L739.3 244.9 L740.2 236.9 L741.1 227.1 L742.2 222.7 L743.2 222.7 L744.3 225.3 L745.4 219.1 L746.1 218.2 L746.8 207.6 L747.5 196.9 L748.2 186.2 L749.6 185.3 L750.9 185.3 L751.8 187.1 L752.5 191.6 L753.6 190.7 L754.3 200.4 L755.0 211.1 L756.0 218.2 L757.1 219.1 L758.2 221.8 L758.9 230.7 L759.6 234.2 L760.3 222.7 L761.0 229.8 L762.1 231.6 L763.5 231.6 L764.2 230.7 L764.9 207.6 L766.9 207.6 L769.6 207.6 L773.1 207.6 L776.0 207.6 L776.7 228.9 L777.0 260.0 L777.1 244.4 L777.1 287.8 L777.8 271.1 L778.9 266.7 L780.0 271.1 L781.3 272.2 L782.2 284.4 L783.1 296.7 L784.0 297.8 L784.9 305.6 L786.7 307.1 L788.9 307.6 L790.7 307.6 L791.3 324.4 L792.0 340.0 L792.7 324.4 L793.3 314.4 L794.7 315.6 L796.0 314.4 L796.9 306.7 L797.8 293.3 L798.7 284.4 L800.0 284.0 L800.9 288.9 L801.8 284.4 L802.7 277.8 L803.6 271.1 L804.4 263.3 L805.8 262.2 L806.7 264.4 L807.6 266.7 L808.4 257.8 L809.3 248.9 L810.2 240.0 L811.1 233.3 L812.4 232.9 L813.3 238.9 L814.7 236.7 L815.6 231.1 L816.9 230.0 L817.8 233.3 L818.9 238.9 L820.0 230.0 L821.3 224.4 L822.7 221.1 L824.0 220.0 L825.3 218.9 L826.2 212.2 L827.3 202.2 L828.2 208.9 L829.3 218.9 L830.7 217.8 L831.8 215.6 L832.8 215.8 L834.1 213.7 L835.3 201.3 L836.5 201.3 L837.8 197.1 L838.6 195.0 L839.5 201.3 L840.7 209.6 L841.9 206.4 L843.2 204.4 L844.4 197.1 L845.7 191.9 L846.9 189.9 L848.2 189.9 L849.4 186.8 L850.7 183.6 L851.9 184.7 L853.1 187.8 L854.4 188.8 L855.6 189.9 L856.9 185.7 L857.7 180.5 L858.5 166.0 L859.4 153.6 L860.6 152.5 L861.4 146.3 L862.3 138.0 L863.5 135.9 L864.4 144.2 L865.2 151.5 L866.0 160.8 L867.2 165.0 L868.1 170.2 L868.9 172.2 L869.7 159.8 L870.6 159.8 L871.4 171.2 L872.6 170.2 L873.5 168.1 L874.3 156.7 L875.1 144.2 L876.0 134.9 L877.2 131.8 L878.0 133.8 L878.9 135.9 L880.1 137.0 L880.9 143.2 L881.8 146.3 L882.6 139.0 L883.8 133.8 L885.1 132.8 L886.3 130.7 L887.2 124.5 L888.4 119.3 L890.1 118.7 L891.7 119.3 L893.4 119.3 L894.6 124.5 L895.9 121.4 L897.1 118.7 L898.4 118.3 L899.6 117.9 L900.4 117.3 L901.3 121.4 L902.5 124.5 L903.8 124.1 L905.0 124.9 L905.8 137.0 L906.7 154.6 L907.5 172.2 L908.3 181.6 L909.1 176.4 L910.4 175.3 L911.2 182.6 L912.0 178.4 L912.9 170.2 L913.7 160.8 L914.8 161.9 L915.8 166.0 L916.6 168.1 L917.5 164.3 L918.7 165.0 L919.5 174.3 L920.4 188.8 L921.2 198.2 L922.0 189.9 L923.0 181.6 L924.1 182.6 L924.9 188.8 L925.7 195.0 L927.0 198.2 L927.7 198.0 L928.8 200.2 L929.6 201.6 L930.5 193.8 L931.3 186.8 L932.2 181.2 L933.0 176.2 L934.1 175.8 L935.3 175.5 L936.1 168.5 L937.0 166.4 L937.8 170.6 L938.6 172.7 L939.6 174.1 L940.6 174.8 L941.5 167.1 L942.3 157.2 L943.1 155.8 L944.0 155.8 L944.8 161.4 L945.7 167.1 L946.5 168.5 L947.4 169.2 L948.2 170.6 L949.1 171.3 L949.9 175.5 L951.0 172.7 L951.9 169.2 L952.7 167.8 L953.6 161.4 L954.4 151.6 L955.2 138.9 L955.8 130.5 L956.7 128.4 L957.5 130.5 L958.4 132.6 L959.2 134.0 L960.0 134.0 L960.9 137.5 L961.5 141.0 L962.0 164.3 L962.2 204.8 L962.5 218.9 L963.4 215.9 L964.4 215.2 L965.5 213.0 L966.7 211.5 L967.6 213.7 L968.4 215.9 L969.6 216.7 L970.8 217.4 L971.9 218.9 L972.6 210.7 L973.5 203.3 L974.4 202.6 L975.3 206.3 L975.9 214.4 L976.7 211.5 L977.6 210.7 L978.5 208.5 L979.1 216.7 L979.7 233.7 L980.6 227.0 L981.5 226.3 L982.1 235.9 L982.7 247.0 L983.6 248.5 L984.4 249.3 L985.0 258.1 L985.6 267.0 L986.2 277.4 L987.1 275.9 L987.7 265.6 L988.3 261.1 L989.2 269.3 L990.1 270.0 L991.0 264.1 L991.6 255.2 L992.1 264.1 L992.7 274.4 L993.3 280.4 L993.9 275.9 L994.4 267.0" fill="none" stroke="#70af15" stroke-width="3" stroke-linejoin="round" stroke-linecap="round" clip-path="url(#cUp)"/>
<path d="M36.0 394.8 L37.2 399.3 L38.7 409.6 L40.1 412.6 L41.6 405.2 L42.7 392.6 L43.4 391.9 L44.1 402.2 L45.2 399.3 L46.1 403.7 L47.1 405.9 L48.1 402.2 L49.0 397.8 L50.1 399.3 L50.8 384.4 L51.6 374.8 L52.6 375.6 L53.8 368.9 L55.0 371.9 L56.0 371.9 L57.0 380.0 L57.9 388.1 L59.1 387.4 L60.0 399.3 L61.2 415.6 L62.7 420.0 L64.2 422.2 L65.6 417.0 L66.8 411.1 L67.8 391.9 L68.9 386.7 L69.8 391.9 L70.8 405.2 L72.3 415.6 L73.3 406.7 L74.5 404.4 L75.7 406.7 L76.7 408.1 L78.2 397.8 L79.3 399.3 L80.4 409.6 L81.9 419.3 L83.1 421.5 L84.2 414.1 L85.2 417.0 L86.4 427.4 L87.1 430.4 L88.2 417.0 L89.0 414.1 L90.1 423.0 L90.8 425.2 L92.0 405.2 L93.0 393.3 L94.5 388.9 L96.4 386.7 L97.9 391.1 L99.4 395.6 L100.9 398.5 L101.9 399.3 L103.0 405.2 L104.2 423.0 L105.3 428.9 L106.4 432.6 L107.8 433.3 L108.9 420.0 L109.8 399.3 L110.4 388.9 L111.6 387.4 L112.4 391.9 L113.3 397.0 L114.5 395.6 L115.7 396.3 L116.3 388.9 L117.2 384.4 L118.2 383.7 L119.0 387.4 L120.2 384.4 L121.2 378.5 L121.9 375.6 L123.1 377.8 L124.2 374.8 L125.6 374.4 L126.7 377.0 L127.8 383.0 L129.0 378.5 L130.2 380.0 L131.6 385.2 L133.9 360.0 L135.3 344.9 L136.8 328.0 L138.0 328.0 L138.9 330.7 L139.8 313.8 L141.0 311.1 L142.4 306.7 L143.9 305.8 L145.1 306.7 L146.4 299.6 L147.4 305.8 L148.7 307.6 L149.9 303.1 L151.3 302.2 L152.8 300.4 L154.0 303.1 L155.2 300.4 L156.7 299.6 L158.1 286.2 L159.0 283.6 L160.6 285.3 L162.0 285.3 L162.9 293.3 L164.1 300.4 L165.2 296.9 L166.4 307.6 L167.3 296.9 L168.8 295.1 L170.0 307.6 L171.2 314.7 L172.3 322.7 L173.6 327.1 L175.3 330.7 L176.6 334.2 L177.6 314.7 L178.9 308.4 L180.1 316.4 L181.2 318.2 L182.4 334.2 L183.7 338.7 L184.8 325.3 L186.0 320.9 L187.2 321.8 L188.3 328.0 L189.6 320.0 L190.8 309.3 L191.9 304.9 L193.1 304.9 L194.4 297.8 L195.8 295.1 L197.2 298.7 L198.4 302.2 L199.7 301.3 L201.1 292.4 L202.5 291.6 L203.8 300.4 L205.0 301.3 L206.4 302.2 L207.9 289.8 L209.1 276.4 L210.4 275.6 L211.8 277.3 L213.2 284.4 L214.4 288.9 L215.7 291.6 L217.1 291.6 L218.5 286.2 L219.8 289.8 L220.7 296.9 L222.1 282.7 L223.3 276.4 L224.6 276.4 L226.0 282.7 L226.9 292.4 L228.1 280.9 L229.2 284.4 L230.4 288.0 L231.7 287.1 L233.1 280.9 L234.5 269.3 L235.8 268.4 L237.0 269.3 L238.1 278.2 L239.3 280.0 L240.6 273.8 L242.0 274.7 L243.4 273.8 L244.7 271.1 L245.9 274.7 L247.3 277.3 L248.7 278.5 L250.0 283.7 L251.0 288.9 L252.4 281.6 L254.1 280.6 L255.3 269.2 L256.2 253.6 L257.6 251.6 L259.1 254.7 L260.7 256.3 L261.8 257.2 L262.8 242.2 L263.9 238.1 L264.9 218.4 L266.3 217.3 L267.6 213.2 L269.0 203.8 L270.7 212.2 L271.5 204.9 L272.8 205.9 L273.8 202.8 L275.3 211.1 L276.3 224.6 L277.3 227.7 L279.0 217.3 L280.4 210.1 L282.1 202.8 L283.6 201.8 L285.2 203.8 L286.7 202.8 L288.1 199.7 L289.4 196.6 L290.8 201.8 L291.9 200.7 L293.1 207.0 L294.4 213.2 L296.0 209.0 L297.0 210.1 L298.5 217.3 L299.7 213.2 L301.2 221.5 L302.2 224.6 L303.3 217.3 L304.7 209.0 L306.0 220.4 L307.4 226.7 L308.9 227.7 L310.1 222.5 L311.1 224.6 L312.2 235.0 L313.0 236.0 L314.3 250.5 L315.1 256.8 L316.3 248.4 L317.4 243.3 L318.8 250.5 L320.3 246.4 L321.5 247.4 L322.6 243.3 L323.6 252.6 L324.6 240.2 L325.7 227.7 L327.1 224.6 L328.4 228.8 L329.6 220.4 L330.6 229.8 L331.7 236.0 L332.9 244.3 L333.8 253.6 L335.4 257.8 L336.4 250.5 L337.5 247.4 L338.7 256.8 L339.6 264.0 L340.8 270.2 L342.1 269.2 L343.1 260.9 L344.3 255.7 L345.4 252.6 L346.8 251.6 L348.3 252.6 L349.5 263.0 L350.6 271.3 L351.6 288.9 L353.1 289.9 L354.1 273.3 L355.3 263.0 L356.6 265.0 L357.8 274.4 L358.9 279.6 L360.3 277.5 L361.6 283.7 L362.8 286.8 L364.0 287.9 L365.3 289.9 L366.5 300.3 L367.6 310.7 L368.6 300.3 L369.6 289.9 L371.1 289.9 L372.3 296.2 L373.8 300.3 L375.2 294.1 L376.5 293.1 L377.7 279.6 L378.1 277.9 L379.1 267.3 L380.6 264.4 L381.9 266.3 L383.1 267.3 L384.4 262.4 L385.8 258.6 L387.3 259.6 L388.9 259.6 L390.2 254.8 L391.6 247.0 L392.7 242.2 L393.9 231.6 L395.0 229.7 L396.2 221.0 L397.5 216.2 L398.5 223.0 L399.3 223.9 L400.4 229.7 L401.8 230.7 L403.1 230.7 L404.3 226.8 L405.6 225.9 L407.0 225.9 L408.5 226.8 L409.9 224.9 L411.2 226.8 L412.4 221.0 L413.9 221.0 L415.3 222.0 L416.2 227.8 L417.0 239.3 L417.8 222.0 L419.1 218.2 L420.5 216.2 L421.6 208.5 L423.0 203.7 L423.9 207.6 L424.9 210.4 L426.2 208.5 L427.8 209.5 L428.9 211.4 L430.1 218.2 L431.2 225.9 L432.6 226.8 L433.6 235.5 L434.7 245.1 L435.9 252.8 L437.4 254.8 L438.9 253.8 L439.9 246.1 L441.3 244.2 L442.4 243.2 L443.6 247.0 L445.1 249.0 L446.7 250.9 L447.4 229.7 L448.4 228.7 L449.4 239.3 L450.5 235.5 L451.7 226.8 L452.8 226.8 L454.0 227.8 L455.1 221.0 L456.7 221.0 L458.2 221.6 L459.2 221.0 L460.1 226.8 L461.5 228.7 L462.8 228.7 L463.8 223.9 L464.4 216.2 L465.3 225.9 L466.3 234.5 L467.5 230.7 L468.8 229.7 L470.1 230.1 L472.1 229.7 L474.0 230.1 L475.9 230.7 L477.5 232.6 L478.4 229.7 L479.4 217.2 L480.2 206.6 L481.3 204.7 L482.7 200.8 L483.6 197.0 L484.8 197.9 L485.9 194.1 L487.1 193.1 L488.3 195.0 L489.4 191.2 L491.0 190.8 L492.3 189.3 L493.6 188.3 L494.8 182.5 L496.2 181.6 L497.1 185.4 L499.3 181.4 L500.8 181.4 L501.6 190.7 L502.9 200.1 L504.1 213.6 L505.6 214.6 L506.6 232.2 L507.6 248.8 L508.7 276.8 L510.1 275.8 L511.4 277.9 L512.4 266.4 L513.4 267.5 L514.5 257.1 L515.5 248.8 L516.5 239.5 L518.0 238.4 L519.0 242.6 L520.1 232.2 L521.1 231.2 L522.1 225.0 L523.2 223.9 L524.2 226.0 L525.3 218.8 L526.5 221.9 L527.3 230.2 L528.4 244.7 L529.4 257.1 L529.8 270.6 L531.1 269.6 L532.1 259.2 L533.1 250.9 L534.2 244.7 L535.6 243.6 L537.3 243.6 L538.3 251.9 L539.4 263.3 L540.2 251.9 L541.4 250.9 L542.7 251.9 L543.5 266.4 L545.0 265.4 L546.0 267.5 L547.0 279.9 L548.1 289.3 L549.1 288.2 L550.1 295.5 L551.0 273.7 L551.6 250.9 L552.9 251.3 L554.7 251.3 L556.0 251.9 L557.0 257.1 L558.0 238.4 L558.9 228.1 L560.1 226.0 L561.1 226.0 L562.2 220.8 L563.6 219.8 L564.7 226.0 L565.5 213.6 L566.8 212.5 L567.8 214.6 L568.8 203.2 L570.1 200.1 L571.3 194.9 L572.1 194.4 L573.3 190.0 L574.6 184.7 L575.6 182.9 L576.9 172.2 L577.8 168.7 L578.8 167.8 L579.9 161.6 L581.0 159.8 L582.2 158.0 L583.1 161.6 L584.2 163.3 L585.2 158.9 L586.3 152.7 L587.6 154.4 L588.4 148.2 L589.9 147.3 L591.1 146.4 L592.0 142.0 L593.1 141.1 L594.1 144.7 L595.2 131.3 L596.4 132.2 L597.3 138.4 L598.4 128.7 L599.5 124.2 L600.5 125.1 L601.2 136.7 L602.0 149.1 L603.0 150.9 L604.4 150.9 L605.3 159.8 L606.2 181.1 L607.1 182.9 L608.0 173.1 L609.2 172.2 L610.3 169.6 L611.2 165.1 L611.9 170.4 L612.6 181.1 L613.7 184.7 L614.8 186.4 L616.0 188.2 L616.9 179.3 L618.0 178.4 L619.0 181.1 L619.7 162.4 L620.4 162.4 L621.3 178.4 L622.2 180.2 L623.3 182.9 L624.4 188.2 L625.4 189.1 L626.1 202.4 L627.2 186.4 L628.3 186.4 L629.0 198.9 L629.7 208.7 L630.8 209.6 L631.6 202.4 L632.5 197.1 L633.4 195.3 L634.7 196.2 L635.7 202.4 L636.4 191.8 L637.3 180.2 L638.2 173.1 L639.3 171.3 L640.4 170.4 L641.4 166.9 L642.5 166.9 L643.2 172.2 L643.9 181.1 L645.0 174.0 L646.2 173.1 L647.5 176.7 L648.5 175.8 L649.8 175.8 L650.7 180.2 L651.7 182.9 L652.8 183.8 L654.2 183.8 L655.5 184.7 L656.4 185.6 L657.1 174.0 L657.8 166.9 L658.8 167.8 L659.9 166.9 L660.6 159.8 L661.7 158.9 L662.4 166.9 L663.1 179.3 L664.2 171.3 L665.2 172.2 L666.3 170.4 L667.0 162.4 L668.1 164.2 L669.2 166.0 L670.2 174.0 L671.3 177.6 L672.4 178.4 L673.4 181.1 L674.5 183.8 L675.2 190.0 L676.3 182.9 L677.3 182.0 L678.0 182.7 L679.2 178.2 L680.3 178.2 L681.4 183.6 L682.4 188.0 L683.5 189.8 L684.6 186.2 L685.6 182.7 L686.5 180.9 L687.4 184.4 L688.3 192.4 L689.2 196.9 L690.4 196.0 L691.7 196.0 L692.8 200.4 L693.8 204.0 L694.9 204.0 L695.8 198.7 L696.7 192.4 L697.7 193.3 L698.4 201.3 L699.5 208.4 L700.6 211.1 L702.0 212.0 L703.1 204.9 L704.1 201.3 L705.2 198.7 L706.3 191.6 L707.3 188.9 L708.2 193.3 L709.1 189.8 L710.2 184.4 L711.2 175.6 L712.0 171.1 L712.7 179.1 L713.6 186.2 L714.8 188.0 L715.9 188.9 L716.9 188.0 L718.0 193.3 L719.1 199.6 L720.1 201.3 L721.2 203.1 L721.9 210.2 L722.6 205.8 L723.3 208.4 L724.0 223.6 L724.8 239.6 L725.5 251.1 L726.5 252.0 L727.2 239.6 L728.0 227.1 L729.0 226.2 L730.1 227.1 L730.8 218.2 L732.2 218.2 L732.9 223.6 L733.6 230.7 L734.4 239.6 L735.2 244.9 L736.1 241.3 L737.0 246.7 L737.6 253.8 L738.6 254.7 L739.3 244.9 L740.2 236.9 L741.1 227.1 L742.2 222.7 L743.2 222.7 L744.3 225.3 L745.4 219.1 L746.1 218.2 L746.8 207.6 L747.5 196.9 L748.2 186.2 L749.6 185.3 L750.9 185.3 L751.8 187.1 L752.5 191.6 L753.6 190.7 L754.3 200.4 L755.0 211.1 L756.0 218.2 L757.1 219.1 L758.2 221.8 L758.9 230.7 L759.6 234.2 L760.3 222.7 L761.0 229.8 L762.1 231.6 L763.5 231.6 L764.2 230.7 L764.9 207.6 L766.9 207.6 L769.6 207.6 L773.1 207.6 L776.0 207.6 L776.7 228.9 L777.0 260.0 L777.1 244.4 L777.1 287.8 L777.8 271.1 L778.9 266.7 L780.0 271.1 L781.3 272.2 L782.2 284.4 L783.1 296.7 L784.0 297.8 L784.9 305.6 L786.7 307.1 L788.9 307.6 L790.7 307.6 L791.3 324.4 L792.0 340.0 L792.7 324.4 L793.3 314.4 L794.7 315.6 L796.0 314.4 L796.9 306.7 L797.8 293.3 L798.7 284.4 L800.0 284.0 L800.9 288.9 L801.8 284.4 L802.7 277.8 L803.6 271.1 L804.4 263.3 L805.8 262.2 L806.7 264.4 L807.6 266.7 L808.4 257.8 L809.3 248.9 L810.2 240.0 L811.1 233.3 L812.4 232.9 L813.3 238.9 L814.7 236.7 L815.6 231.1 L816.9 230.0 L817.8 233.3 L818.9 238.9 L820.0 230.0 L821.3 224.4 L822.7 221.1 L824.0 220.0 L825.3 218.9 L826.2 212.2 L827.3 202.2 L828.2 208.9 L829.3 218.9 L830.7 217.8 L831.8 215.6 L832.8 215.8 L834.1 213.7 L835.3 201.3 L836.5 201.3 L837.8 197.1 L838.6 195.0 L839.5 201.3 L840.7 209.6 L841.9 206.4 L843.2 204.4 L844.4 197.1 L845.7 191.9 L846.9 189.9 L848.2 189.9 L849.4 186.8 L850.7 183.6 L851.9 184.7 L853.1 187.8 L854.4 188.8 L855.6 189.9 L856.9 185.7 L857.7 180.5 L858.5 166.0 L859.4 153.6 L860.6 152.5 L861.4 146.3 L862.3 138.0 L863.5 135.9 L864.4 144.2 L865.2 151.5 L866.0 160.8 L867.2 165.0 L868.1 170.2 L868.9 172.2 L869.7 159.8 L870.6 159.8 L871.4 171.2 L872.6 170.2 L873.5 168.1 L874.3 156.7 L875.1 144.2 L876.0 134.9 L877.2 131.8 L878.0 133.8 L878.9 135.9 L880.1 137.0 L880.9 143.2 L881.8 146.3 L882.6 139.0 L883.8 133.8 L885.1 132.8 L886.3 130.7 L887.2 124.5 L888.4 119.3 L890.1 118.7 L891.7 119.3 L893.4 119.3 L894.6 124.5 L895.9 121.4 L897.1 118.7 L898.4 118.3 L899.6 117.9 L900.4 117.3 L901.3 121.4 L902.5 124.5 L903.8 124.1 L905.0 124.9 L905.8 137.0 L906.7 154.6 L907.5 172.2 L908.3 181.6 L909.1 176.4 L910.4 175.3 L911.2 182.6 L912.0 178.4 L912.9 170.2 L913.7 160.8 L914.8 161.9 L915.8 166.0 L916.6 168.1 L917.5 164.3 L918.7 165.0 L919.5 174.3 L920.4 188.8 L921.2 198.2 L922.0 189.9 L923.0 181.6 L924.1 182.6 L924.9 188.8 L925.7 195.0 L927.0 198.2 L927.7 198.0 L928.8 200.2 L929.6 201.6 L930.5 193.8 L931.3 186.8 L932.2 181.2 L933.0 176.2 L934.1 175.8 L935.3 175.5 L936.1 168.5 L937.0 166.4 L937.8 170.6 L938.6 172.7 L939.6 174.1 L940.6 174.8 L941.5 167.1 L942.3 157.2 L943.1 155.8 L944.0 155.8 L944.8 161.4 L945.7 167.1 L946.5 168.5 L947.4 169.2 L948.2 170.6 L949.1 171.3 L949.9 175.5 L951.0 172.7 L951.9 169.2 L952.7 167.8 L953.6 161.4 L954.4 151.6 L955.2 138.9 L955.8 130.5 L956.7 128.4 L957.5 130.5 L958.4 132.6 L959.2 134.0 L960.0 134.0 L960.9 137.5 L961.5 141.0 L962.0 164.3 L962.2 204.8 L962.5 218.9 L963.4 215.9 L964.4 215.2 L965.5 213.0 L966.7 211.5 L967.6 213.7 L968.4 215.9 L969.6 216.7 L970.8 217.4 L971.9 218.9 L972.6 210.7 L973.5 203.3 L974.4 202.6 L975.3 206.3 L975.9 214.4 L976.7 211.5 L977.6 210.7 L978.5 208.5 L979.1 216.7 L979.7 233.7 L980.6 227.0 L981.5 226.3 L982.1 235.9 L982.7 247.0 L983.6 248.5 L984.4 249.3 L985.0 258.1 L985.6 267.0 L986.2 277.4 L987.1 275.9 L987.7 265.6 L988.3 261.1 L989.2 269.3 L990.1 270.0 L991.0 264.1 L991.6 255.2 L992.1 264.1 L992.7 274.4 L993.3 280.4 L993.9 275.9 L994.4 267.0" fill="none" stroke="#bb1414" stroke-width="3" stroke-linejoin="round" stroke-linecap="round" clip-path="url(#cDn)"/>
<g><path d="M141 448.5 V460" stroke="#ec7404" stroke-width="1.8" fill="none"/><path d="M138.8 460.4 L141 457.6 L143.2 460.4 Z" fill="#ec7404"/>
<rect x="110.8" y="420.9" width="63" height="28.7" fill="none" stroke="#000" stroke-opacity="0.07" stroke-width="4.5"/>
<rect x="110.6" y="420.7" width="63" height="28.7" fill="none" stroke="#000" stroke-opacity="0.09" stroke-width="2"/>
<rect x="109.6" y="419.7" width="63" height="28.7" fill="#fff" stroke="#ec7404" stroke-width="1.6"/>
<text x="140.6" y="437.3" text-anchor="middle" font-size="14.7" text-rendering="geometricPrecision" font-weight="bold" fill="#000" font-family="'Liberation Sans',sans-serif">D</text></g>
<g><path d="M324.4 448.5 V460" stroke="#ec7404" stroke-width="1.8" fill="none"/><path d="M322.2 460.4 L324.4 457.6 L326.59999999999997 460.4 Z" fill="#ec7404"/>
<rect x="294.2" y="420.9" width="63" height="28.7" fill="none" stroke="#000" stroke-opacity="0.07" stroke-width="4.5"/>
<rect x="294.0" y="420.7" width="63" height="28.7" fill="none" stroke="#000" stroke-opacity="0.09" stroke-width="2"/>
<rect x="293.0" y="419.7" width="63" height="28.7" fill="#fff" stroke="#ec7404" stroke-width="1.6"/>
<text x="324.0" y="437.3" text-anchor="middle" font-size="14.7" text-rendering="geometricPrecision" font-weight="bold" fill="#000" font-family="'Liberation Sans',sans-serif">D</text></g>
<g><path d="M458.6 448.5 V460" stroke="#ec7404" stroke-width="1.8" fill="none"/><path d="M456.40000000000003 460.4 L458.6 457.6 L460.8 460.4 Z" fill="#ec7404"/>
<rect x="428.4" y="420.9" width="63" height="28.7" fill="none" stroke="#000" stroke-opacity="0.07" stroke-width="4.5"/>
<rect x="428.2" y="420.7" width="63" height="28.7" fill="none" stroke="#000" stroke-opacity="0.09" stroke-width="2"/>
<rect x="427.2" y="419.7" width="63" height="28.7" fill="#fff" stroke="#ec7404" stroke-width="1.6"/>
<text x="458.2" y="437.3" text-anchor="middle" font-size="14.7" text-rendering="geometricPrecision" font-weight="bold" fill="#000" font-family="'Liberation Sans',sans-serif">D</text></g>
<g><path d="M643.3 448.5 V460" stroke="#ec7404" stroke-width="1.8" fill="none"/><path d="M641.0999999999999 460.4 L643.3 457.6 L645.5 460.4 Z" fill="#ec7404"/>
<rect x="613.1" y="420.9" width="63" height="28.7" fill="none" stroke="#000" stroke-opacity="0.07" stroke-width="4.5"/>
<rect x="612.9" y="420.7" width="63" height="28.7" fill="none" stroke="#000" stroke-opacity="0.09" stroke-width="2"/>
<rect x="611.9" y="419.7" width="63" height="28.7" fill="#fff" stroke="#ec7404" stroke-width="1.6"/>
<text x="642.9" y="437.3" text-anchor="middle" font-size="14.7" text-rendering="geometricPrecision" font-weight="bold" fill="#000" font-family="'Liberation Sans',sans-serif">D</text></g>
<g font-size="15.3" text-rendering="geometricPrecision" fill="#555" text-anchor="end" font-family="'Liberation Sans',sans-serif">
<text transform="translate(994.3,130.0) scale(0.966,1)">20.00%</text>
<text transform="translate(994.3,195.6) scale(0.966,1)">15.00%</text>
<text transform="translate(994.3,261.2) scale(0.966,1)">10.00%</text>
<text transform="translate(994.3,325.9) scale(0.966,1)">5.00%</text>
<text transform="translate(994.3,391.6) scale(0.966,1)">0.00%</text>
<text transform="translate(994.3,457.1) scale(0.966,1)">-5.00%</text>
</g>
<g font-size="15.3" text-rendering="geometricPrecision" fill="#5c5c5c" text-anchor="middle" font-family="'Liberation Sans',sans-serif">
<text transform="translate(156.4,486) scale(0.947,1)">Jan '17</text>
<text transform="translate(315,486) scale(0.947,1)">Jul '17</text>
<text transform="translate(476.5,486) scale(0.947,1)">Jan '18</text>
<text transform="translate(634.5,486) scale(0.947,1)">Jul '18</text>
<text transform="translate(795.5,486) scale(0.947,1)">Jan '19</text>
<text transform="translate(954.5,486) scale(0.947,1)">Jul '19</text>
</g>
<rect x="35.5" y="526.4" width="958.6" height="54.8" fill="#fdf1e7" stroke="#cccccc" stroke-width="1.5"/>
<path d="M156.0 527 V581" stroke="#e6ddd4" stroke-width="1.5"/>
<path d="M476.4 527 V581" stroke="#e6ddd4" stroke-width="1.5"/>
<path d="M795.4 527 V581" stroke="#e6ddd4" stroke-width="1.5"/>
<g font-size="15.3" text-rendering="geometricPrecision" fill="#a39b93" font-family="'Liberation Sans',sans-serif"><text x="161" y="575">2017</text><text x="480.5" y="575">2018</text><text x="800" y="575">2019</text></g>
<path d="M36.0 571.4 L39.0 572.9 L42.0 572.1 L45.0 571.8 L48.0 572.1 L51.0 569.7 L54.0 567.8 L57.0 568.9 L60.0 572.0 L63.0 574.6 L66.0 573.5 L69.0 571.3 L72.0 572.8 L75.0 572.8 L78.0 572.3 L81.0 573.6 L84.0 574.6 L87.0 574.9 L90.0 574.3 L93.0 571.7 L96.0 570.2 L99.0 570.9 L102.0 572.4 L105.0 575.4 L108.0 575.1 L111.0 571.2 L114.0 571.0 L117.0 570.2 L120.0 569.3 L123.0 568.4 L126.0 568.5 L129.0 569.0 L132.0 568.2 L135.0 564.3 L138.0 561.2 L141.0 559.1 L144.0 558.1 L147.0 557.9 L150.0 557.8 L153.0 557.5 L156.0 556.9 L159.0 555.3 L162.0 555.7 L165.0 557.2 L168.0 557.3 L171.0 559.1 L174.0 561.2 L177.0 560.5 L180.0 559.6 L183.0 561.5 L186.0 560.8 L189.0 560.1 L192.0 558.2 L195.0 557.0 L198.0 557.2 L201.0 556.6 L204.0 556.9 L207.0 556.3 L210.0 554.1 L213.0 554.8 L216.0 555.8 L219.0 555.8 L222.0 555.0 L225.0 554.4 L228.0 555.1 L231.0 555.1 L234.0 553.6 L237.0 553.2 L240.0 553.8 L243.0 553.3 L246.0 553.5 L249.0 554.5 L252.0 554.8 L255.0 552.7 L258.0 550.5 L261.0 550.4 L264.0 547.4 L267.0 544.6 L270.0 543.7 L273.0 543.5 L276.0 545.2 L279.0 545.2 L282.0 543.4 L285.0 543.0 L288.0 542.6 L291.0 542.8 L294.0 543.9 L297.0 544.4 L300.0 545.2 L303.0 545.2 L306.0 545.4 L309.0 546.3 L312.0 547.4 L315.0 549.6 L318.0 549.6 L321.0 549.5 L324.0 548.6 L327.0 546.7 L330.0 546.8 L333.0 549.2 L336.0 550.3 L339.0 551.2 L342.0 552.1 L345.0 550.6 L348.0 550.8 L351.0 553.9 L354.0 553.8 L357.0 552.8 L360.0 554.2 L363.0 555.2 L366.0 556.8 L369.0 556.9 L372.0 556.4 L375.0 556.5 L378.0 554.1 L381.0 552.3 L384.0 551.9 L387.0 551.3 L390.0 550.5 L393.0 548.3 L396.0 546.1 L399.0 546.1 L402.0 547.0 L405.0 546.6 L408.0 546.4 L411.0 546.2 L414.0 545.9 L417.0 546.4 L420.0 544.9 L423.0 543.8 L426.0 544.0 L429.0 544.7 L432.0 546.6 L435.0 549.2 L438.0 550.3 L441.0 549.3 L444.0 549.5 L447.0 548.5 L450.0 547.4 L453.0 546.5 L456.0 545.9 L459.0 546.0 L462.0 546.5 L465.0 546.5 L468.0 547.1 L471.0 547.0 L474.0 547.0 L477.0 547.0 L480.0 544.7 L483.0 542.7 L486.0 541.9 L489.0 541.5 L492.0 541.1 L495.0 540.4 L498.0 540.1 L501.0 540.9 L504.0 543.9 L507.0 548.7 L510.0 553.3 L513.0 552.3 L516.0 549.5 L519.0 548.0 L522.0 546.7 L525.0 546.0 L528.0 548.6 L531.0 551.6 L534.0 549.7 L537.0 549.5 L540.0 550.5 L543.0 551.2 L546.0 553.3 L549.0 555.2 L552.0 551.8 L555.0 550.3 L558.0 548.5 L561.0 546.2 L564.0 545.5 L567.0 544.4 L570.0 542.7 L573.0 541.2 L576.0 539.4 L579.0 537.6 L582.0 536.9 L585.0 536.6 L588.0 535.4 L591.0 534.6 L594.0 533.7 L597.0 532.7 L600.0 532.6 L603.0 535.1 L606.0 538.0 L609.0 538.7 L612.0 539.0 L615.0 540.4 L618.0 539.4 L621.0 538.9 L624.0 540.7 L627.0 541.5 L630.0 542.8 L633.0 542.5 L636.0 541.3 L639.0 538.8 L642.0 538.4 L645.0 539.0 L648.0 539.0 L651.0 539.7 L654.0 540.3 L657.0 539.1 L660.0 537.4 L663.0 538.1 L666.0 538.0 L669.0 538.0 L672.0 539.4 L675.0 540.2 L678.0 539.9 L681.0 540.1 L684.0 540.6 L687.0 540.6 L690.0 541.9 L693.0 542.7 L696.0 542.4 L699.0 543.1 L702.0 543.8 L705.0 542.3 L708.0 541.2 L711.0 539.8 L714.0 540.3 L717.0 541.3 L720.0 542.8 L723.0 545.0 L726.0 548.5 L729.0 546.7 L732.0 546.1 L735.0 548.3 L738.0 549.5 L741.0 547.3 L744.0 545.9 L747.0 543.2 L750.0 540.6 L753.0 541.7 L756.0 544.6 L759.0 546.4 L762.0 547.0 L765.0 545.1 L768.0 543.7 L771.0 543.7 L774.0 543.7 L777.0 548.9 L780.0 553.1 L783.0 555.8 L786.0 558.0 L789.0 558.4 L792.0 560.1 L795.0 559.2 L798.0 556.5 L801.0 554.8 L804.0 552.8 L807.0 551.6 L810.0 549.1 L813.0 547.8 L816.0 547.5 L819.0 547.3 L822.0 546.1 L825.0 545.0 L828.0 544.3 L831.0 545.1 L834.0 544.1 L837.0 542.6 L840.0 543.1 L843.0 543.1 L846.0 541.6 L849.0 540.8 L852.0 540.6 L855.0 540.9 L858.0 538.6 L861.0 535.0 L864.0 534.6 L867.0 537.3 L870.0 537.8 L873.0 537.4 L876.0 534.0 L879.0 533.3 L882.0 533.8 L885.0 532.7 L888.0 531.4 L891.0 530.8 L894.0 531.1 L897.0 530.9 L900.0 530.8 L903.0 531.5 L906.0 534.7 L909.0 539.0 L912.0 538.7 L915.0 537.5 L918.0 538.1 L921.0 540.4 L924.0 540.8 L927.0 542.1 L930.0 541.8 L933.0 539.6 L936.0 538.5 L939.0 538.5 L942.0 537.3 L945.0 537.1 L948.0 538.3 L951.0 538.4 L954.0 535.8 L957.0 532.8 L960.0 533.7 L963.0 541.7 L966.0 544.6 L969.0 544.9 L972.0 544.4 L975.0 543.7 L978.0 544.9 L981.0 547.2 L984.0 550.2 L987.0 552.5 L990.0 552.1 L993.0 552.6" transform="translate(1,1)" fill="none" stroke="#000" stroke-opacity="0.06" stroke-width="4" stroke-linejoin="round"/>
<path d="M36.0 571.4 L39.0 572.9 L42.0 572.1 L45.0 571.8 L48.0 572.1 L51.0 569.7 L54.0 567.8 L57.0 568.9 L60.0 572.0 L63.0 574.6 L66.0 573.5 L69.0 571.3 L72.0 572.8 L75.0 572.8 L78.0 572.3 L81.0 573.6 L84.0 574.6 L87.0 574.9 L90.0 574.3 L93.0 571.7 L96.0 570.2 L99.0 570.9 L102.0 572.4 L105.0 575.4 L108.0 575.1 L111.0 571.2 L114.0 571.0 L117.0 570.2 L120.0 569.3 L123.0 568.4 L126.0 568.5 L129.0 569.0 L132.0 568.2 L135.0 564.3 L138.0 561.2 L141.0 559.1 L144.0 558.1 L147.0 557.9 L150.0 557.8 L153.0 557.5 L156.0 556.9 L159.0 555.3 L162.0 555.7 L165.0 557.2 L168.0 557.3 L171.0 559.1 L174.0 561.2 L177.0 560.5 L180.0 559.6 L183.0 561.5 L186.0 560.8 L189.0 560.1 L192.0 558.2 L195.0 557.0 L198.0 557.2 L201.0 556.6 L204.0 556.9 L207.0 556.3 L210.0 554.1 L213.0 554.8 L216.0 555.8 L219.0 555.8 L222.0 555.0 L225.0 554.4 L228.0 555.1 L231.0 555.1 L234.0 553.6 L237.0 553.2 L240.0 553.8 L243.0 553.3 L246.0 553.5 L249.0 554.5 L252.0 554.8 L255.0 552.7 L258.0 550.5 L261.0 550.4 L264.0 547.4 L267.0 544.6 L270.0 543.7 L273.0 543.5 L276.0 545.2 L279.0 545.2 L282.0 543.4 L285.0 543.0 L288.0 542.6 L291.0 542.8 L294.0 543.9 L297.0 544.4 L300.0 545.2 L303.0 545.2 L306.0 545.4 L309.0 546.3 L312.0 547.4 L315.0 549.6 L318.0 549.6 L321.0 549.5 L324.0 548.6 L327.0 546.7 L330.0 546.8 L333.0 549.2 L336.0 550.3 L339.0 551.2 L342.0 552.1 L345.0 550.6 L348.0 550.8 L351.0 553.9 L354.0 553.8 L357.0 552.8 L360.0 554.2 L363.0 555.2 L366.0 556.8 L369.0 556.9 L372.0 556.4 L375.0 556.5 L378.0 554.1 L381.0 552.3 L384.0 551.9 L387.0 551.3 L390.0 550.5 L393.0 548.3 L396.0 546.1 L399.0 546.1 L402.0 547.0 L405.0 546.6 L408.0 546.4 L411.0 546.2 L414.0 545.9 L417.0 546.4 L420.0 544.9 L423.0 543.8 L426.0 544.0 L429.0 544.7 L432.0 546.6 L435.0 549.2 L438.0 550.3 L441.0 549.3 L444.0 549.5 L447.0 548.5 L450.0 547.4 L453.0 546.5 L456.0 545.9 L459.0 546.0 L462.0 546.5 L465.0 546.5 L468.0 547.1 L471.0 547.0 L474.0 547.0 L477.0 547.0 L480.0 544.7 L483.0 542.7 L486.0 541.9 L489.0 541.5 L492.0 541.1 L495.0 540.4 L498.0 540.1 L501.0 540.9 L504.0 543.9 L507.0 548.7 L510.0 553.3 L513.0 552.3 L516.0 549.5 L519.0 548.0 L522.0 546.7 L525.0 546.0 L528.0 548.6 L531.0 551.6 L534.0 549.7 L537.0 549.5 L540.0 550.5 L543.0 551.2 L546.0 553.3 L549.0 555.2 L552.0 551.8 L555.0 550.3 L558.0 548.5 L561.0 546.2 L564.0 545.5 L567.0 544.4 L570.0 542.7 L573.0 541.2 L576.0 539.4 L579.0 537.6 L582.0 536.9 L585.0 536.6 L588.0 535.4 L591.0 534.6 L594.0 533.7 L597.0 532.7 L600.0 532.6 L603.0 535.1 L606.0 538.0 L609.0 538.7 L612.0 539.0 L615.0 540.4 L618.0 539.4 L621.0 538.9 L624.0 540.7 L627.0 541.5 L630.0 542.8 L633.0 542.5 L636.0 541.3 L639.0 538.8 L642.0 538.4 L645.0 539.0 L648.0 539.0 L651.0 539.7 L654.0 540.3 L657.0 539.1 L660.0 537.4 L663.0 538.1 L666.0 538.0 L669.0 538.0 L672.0 539.4 L675.0 540.2 L678.0 539.9 L681.0 540.1 L684.0 540.6 L687.0 540.6 L690.0 541.9 L693.0 542.7 L696.0 542.4 L699.0 543.1 L702.0 543.8 L705.0 542.3 L708.0 541.2 L711.0 539.8 L714.0 540.3 L717.0 541.3 L720.0 542.8 L723.0 545.0 L726.0 548.5 L729.0 546.7 L732.0 546.1 L735.0 548.3 L738.0 549.5 L741.0 547.3 L744.0 545.9 L747.0 543.2 L750.0 540.6 L753.0 541.7 L756.0 544.6 L759.0 546.4 L762.0 547.0 L765.0 545.1 L768.0 543.7 L771.0 543.7 L774.0 543.7 L777.0 548.9 L780.0 553.1 L783.0 555.8 L786.0 558.0 L789.0 558.4 L792.0 560.1 L795.0 559.2 L798.0 556.5 L801.0 554.8 L804.0 552.8 L807.0 551.6 L810.0 549.1 L813.0 547.8 L816.0 547.5 L819.0 547.3 L822.0 546.1 L825.0 545.0 L828.0 544.3 L831.0 545.1 L834.0 544.1 L837.0 542.6 L840.0 543.1 L843.0 543.1 L846.0 541.6 L849.0 540.8 L852.0 540.6 L855.0 540.9 L858.0 538.6 L861.0 535.0 L864.0 534.6 L867.0 537.3 L870.0 537.8 L873.0 537.4 L876.0 534.0 L879.0 533.3 L882.0 533.8 L885.0 532.7 L888.0 531.4 L891.0 530.8 L894.0 531.1 L897.0 530.9 L900.0 530.8 L903.0 531.5 L906.0 534.7 L909.0 539.0 L912.0 538.7 L915.0 537.5 L918.0 538.1 L921.0 540.4 L924.0 540.8 L927.0 542.1 L930.0 541.8 L933.0 539.6 L936.0 538.5 L939.0 538.5 L942.0 537.3 L945.0 537.1 L948.0 538.3 L951.0 538.4 L954.0 535.8 L957.0 532.8 L960.0 533.7 L963.0 541.7 L966.0 544.6 L969.0 544.9 L972.0 544.4 L975.0 543.7 L978.0 544.9 L981.0 547.2 L984.0 550.2 L987.0 552.5 L990.0 552.1 L993.0 552.6" transform="translate(1,1)" fill="none" stroke="#000" stroke-opacity="0.1" stroke-width="2" stroke-linejoin="round"/>
<path d="M36.0 571.4 L39.0 572.9 L42.0 572.1 L45.0 571.8 L48.0 572.1 L51.0 569.7 L54.0 567.8 L57.0 568.9 L60.0 572.0 L63.0 574.6 L66.0 573.5 L69.0 571.3 L72.0 572.8 L75.0 572.8 L78.0 572.3 L81.0 573.6 L84.0 574.6 L87.0 574.9 L90.0 574.3 L93.0 571.7 L96.0 570.2 L99.0 570.9 L102.0 572.4 L105.0 575.4 L108.0 575.1 L111.0 571.2 L114.0 571.0 L117.0 570.2 L120.0 569.3 L123.0 568.4 L126.0 568.5 L129.0 569.0 L132.0 568.2 L135.0 564.3 L138.0 561.2 L141.0 559.1 L144.0 558.1 L147.0 557.9 L150.0 557.8 L153.0 557.5 L156.0 556.9 L159.0 555.3 L162.0 555.7 L165.0 557.2 L168.0 557.3 L171.0 559.1 L174.0 561.2 L177.0 560.5 L180.0 559.6 L183.0 561.5 L186.0 560.8 L189.0 560.1 L192.0 558.2 L195.0 557.0 L198.0 557.2 L201.0 556.6 L204.0 556.9 L207.0 556.3 L210.0 554.1 L213.0 554.8 L216.0 555.8 L219.0 555.8 L222.0 555.0 L225.0 554.4 L228.0 555.1 L231.0 555.1 L234.0 553.6 L237.0 553.2 L240.0 553.8 L243.0 553.3 L246.0 553.5 L249.0 554.5 L252.0 554.8 L255.0 552.7 L258.0 550.5 L261.0 550.4 L264.0 547.4 L267.0 544.6 L270.0 543.7 L273.0 543.5 L276.0 545.2 L279.0 545.2 L282.0 543.4 L285.0 543.0 L288.0 542.6 L291.0 542.8 L294.0 543.9 L297.0 544.4 L300.0 545.2 L303.0 545.2 L306.0 545.4 L309.0 546.3 L312.0 547.4 L315.0 549.6 L318.0 549.6 L321.0 549.5 L324.0 548.6 L327.0 546.7 L330.0 546.8 L333.0 549.2 L336.0 550.3 L339.0 551.2 L342.0 552.1 L345.0 550.6 L348.0 550.8 L351.0 553.9 L354.0 553.8 L357.0 552.8 L360.0 554.2 L363.0 555.2 L366.0 556.8 L369.0 556.9 L372.0 556.4 L375.0 556.5 L378.0 554.1 L381.0 552.3 L384.0 551.9 L387.0 551.3 L390.0 550.5 L393.0 548.3 L396.0 546.1 L399.0 546.1 L402.0 547.0 L405.0 546.6 L408.0 546.4 L411.0 546.2 L414.0 545.9 L417.0 546.4 L420.0 544.9 L423.0 543.8 L426.0 544.0 L429.0 544.7 L432.0 546.6 L435.0 549.2 L438.0 550.3 L441.0 549.3 L444.0 549.5 L447.0 548.5 L450.0 547.4 L453.0 546.5 L456.0 545.9 L459.0 546.0 L462.0 546.5 L465.0 546.5 L468.0 547.1 L471.0 547.0 L474.0 547.0 L477.0 547.0 L480.0 544.7 L483.0 542.7 L486.0 541.9 L489.0 541.5 L492.0 541.1 L495.0 540.4 L498.0 540.1 L501.0 540.9 L504.0 543.9 L507.0 548.7 L510.0 553.3 L513.0 552.3 L516.0 549.5 L519.0 548.0 L522.0 546.7 L525.0 546.0 L528.0 548.6 L531.0 551.6 L534.0 549.7 L537.0 549.5 L540.0 550.5 L543.0 551.2 L546.0 553.3 L549.0 555.2 L552.0 551.8 L555.0 550.3 L558.0 548.5 L561.0 546.2 L564.0 545.5 L567.0 544.4 L570.0 542.7 L573.0 541.2 L576.0 539.4 L579.0 537.6 L582.0 536.9 L585.0 536.6 L588.0 535.4 L591.0 534.6 L594.0 533.7 L597.0 532.7 L600.0 532.6 L603.0 535.1 L606.0 538.0 L609.0 538.7 L612.0 539.0 L615.0 540.4 L618.0 539.4 L621.0 538.9 L624.0 540.7 L627.0 541.5 L630.0 542.8 L633.0 542.5 L636.0 541.3 L639.0 538.8 L642.0 538.4 L645.0 539.0 L648.0 539.0 L651.0 539.7 L654.0 540.3 L657.0 539.1 L660.0 537.4 L663.0 538.1 L666.0 538.0 L669.0 538.0 L672.0 539.4 L675.0 540.2 L678.0 539.9 L681.0 540.1 L684.0 540.6 L687.0 540.6 L690.0 541.9 L693.0 542.7 L696.0 542.4 L699.0 543.1 L702.0 543.8 L705.0 542.3 L708.0 541.2 L711.0 539.8 L714.0 540.3 L717.0 541.3 L720.0 542.8 L723.0 545.0 L726.0 548.5 L729.0 546.7 L732.0 546.1 L735.0 548.3 L738.0 549.5 L741.0 547.3 L744.0 545.9 L747.0 543.2 L750.0 540.6 L753.0 541.7 L756.0 544.6 L759.0 546.4 L762.0 547.0 L765.0 545.1 L768.0 543.7 L771.0 543.7 L774.0 543.7 L777.0 548.9 L780.0 553.1 L783.0 555.8 L786.0 558.0 L789.0 558.4 L792.0 560.1 L795.0 559.2 L798.0 556.5 L801.0 554.8 L804.0 552.8 L807.0 551.6 L810.0 549.1 L813.0 547.8 L816.0 547.5 L819.0 547.3 L822.0 546.1 L825.0 545.0 L828.0 544.3 L831.0 545.1 L834.0 544.1 L837.0 542.6 L840.0 543.1 L843.0 543.1 L846.0 541.6 L849.0 540.8 L852.0 540.6 L855.0 540.9 L858.0 538.6 L861.0 535.0 L864.0 534.6 L867.0 537.3 L870.0 537.8 L873.0 537.4 L876.0 534.0 L879.0 533.3 L882.0 533.8 L885.0 532.7 L888.0 531.4 L891.0 530.8 L894.0 531.1 L897.0 530.9 L900.0 530.8 L903.0 531.5 L906.0 534.7 L909.0 539.0 L912.0 538.7 L915.0 537.5 L918.0 538.1 L921.0 540.4 L924.0 540.8 L927.0 542.1 L930.0 541.8 L933.0 539.6 L936.0 538.5 L939.0 538.5 L942.0 537.3 L945.0 537.1 L948.0 538.3 L951.0 538.4 L954.0 535.8 L957.0 532.8 L960.0 533.7 L963.0 541.7 L966.0 544.6 L969.0 544.9 L972.0 544.4 L975.0 543.7 L978.0 544.9 L981.0 547.2 L984.0 550.2 L987.0 552.5 L990.0 552.1 L993.0 552.6" fill="none" stroke="#ec8b3a" stroke-width="1.4" stroke-linejoin="round"/>
<g><rect x="30.6" y="543" width="10.4" height="20" fill="#f6f6f6" stroke="#999" stroke-width="1.5"/><rect x="31.900000000000002" y="544.3" width="7.8" height="17.4" fill="none" stroke="#fff" stroke-width="1"/><path d="M34.5 547 V559 M37.1 547 V559" stroke="#777" stroke-width="0.9"/></g>
<g><rect x="988.8" y="543" width="10.4" height="20" fill="#f6f6f6" stroke="#999" stroke-width="1.5"/><rect x="990.0999999999999" y="544.3" width="7.8" height="17.4" fill="none" stroke="#fff" stroke-width="1"/><path d="M992.6999999999999 547 V559 M995.3 547 V559" stroke="#777" stroke-width="0.9"/></g>
<text x="994" y="593.5" text-anchor="end" font-size="12.4" fill="#8c8c8c" font-family="'Liberation Sans',sans-serif">justETF.com</text>
</svg>
<div class="hd l">3 years: <span class="g">+10.38%</span></div>
<div class="hd r">date: 16/08/2019</div>
<div class="btns"><a class="btn dis" style="left:23px;width:99px">1D</a><a class="btn " style="left:129px;width:103px">1M</a><a class="btn " style="left:239px;width:103px">3M</a><a class="btn " style="left:349px;width:103px">6M</a><a class="btn " style="left:459px;width:95.5px">1Y</a><a class="btn act" style="left:561px;width:96.5px">3Y</a><a class="btn " style="left:664px;width:95px">5Y</a><a class="btn " style="left:766px;width:111px">YTD</a><a class="btn " style="left:884.5px;width:117.0px">MAX</a></div>
</body></html>
